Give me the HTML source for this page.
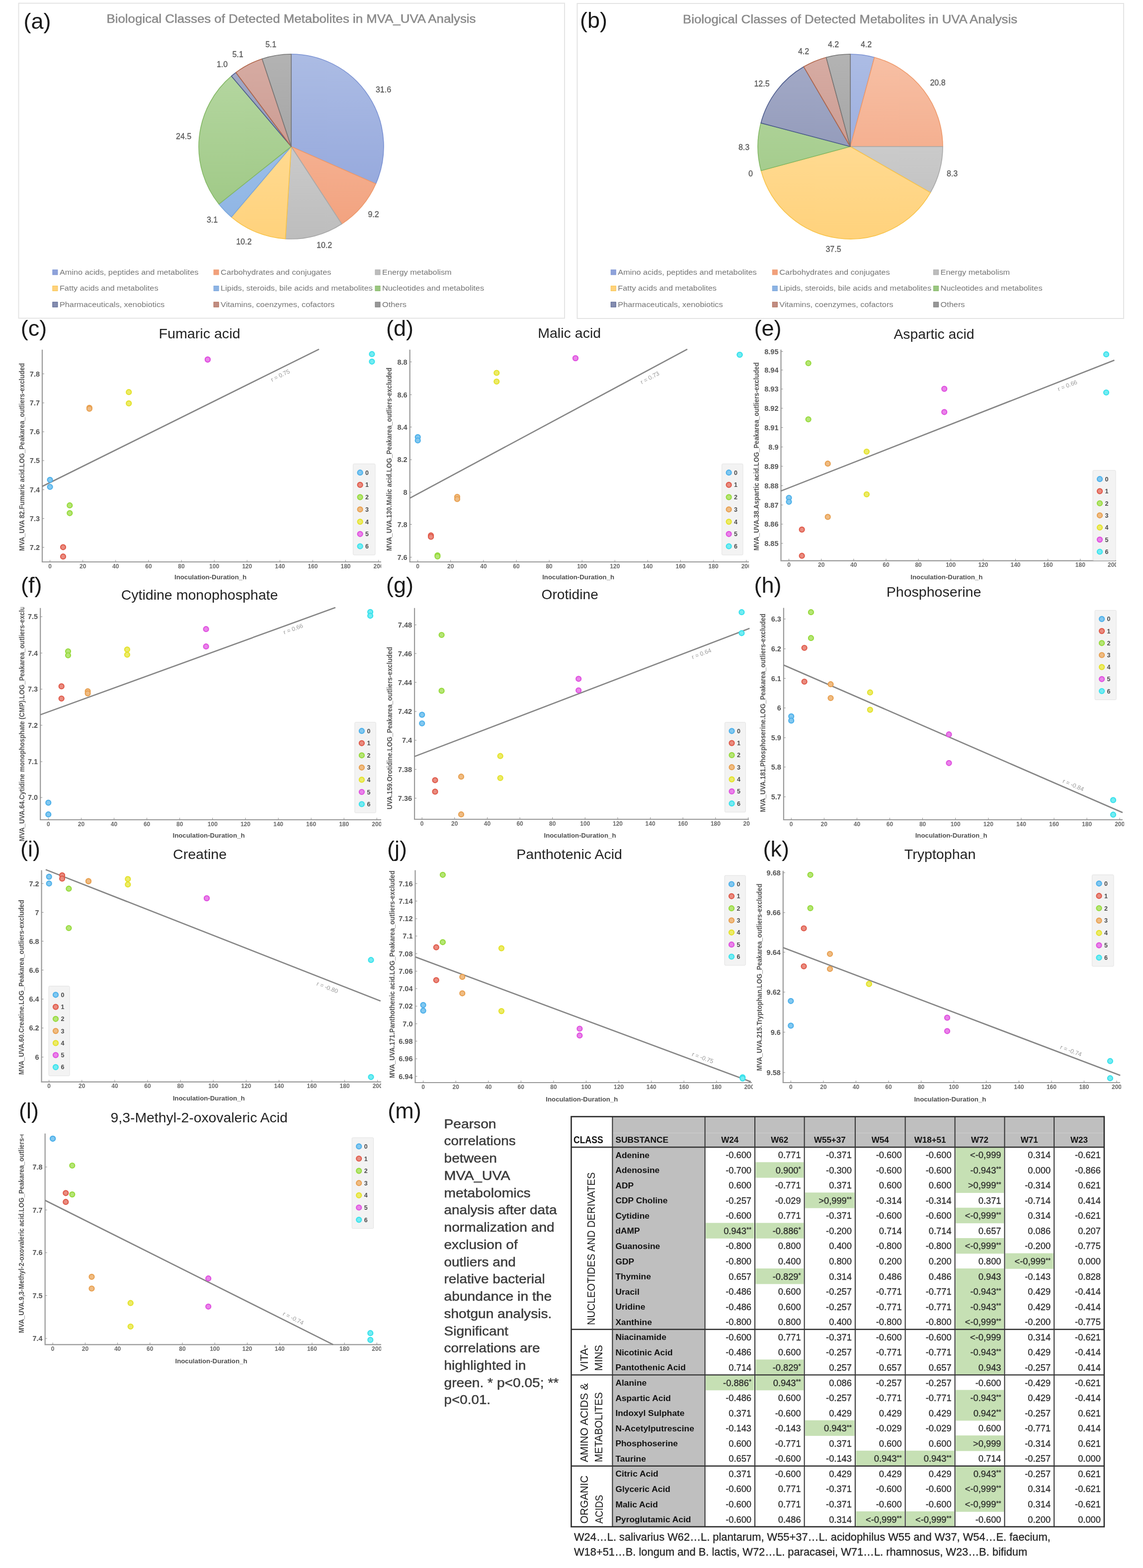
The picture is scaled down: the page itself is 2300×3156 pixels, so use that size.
<!DOCTYPE html>
<html><head><meta charset="utf-8"><title>Figure</title><style>html,body{margin:0;padding:0;background:#fff;}svg{display:block;}</style></head><body>
<svg width="2300" height="3156" viewBox="0 0 2300 3156" font-family="'Liberation Sans', Arial, sans-serif">
<defs>
<linearGradient id="pa_amino" gradientUnits="userSpaceOnUse" x1="0" y1="109" x2="0" y2="481"><stop offset="0" stop-color="#acbce4"/><stop offset="1" stop-color="#8ea2da"/></linearGradient>
<linearGradient id="pa_carb" gradientUnits="userSpaceOnUse" x1="0" y1="109" x2="0" y2="481"><stop offset="0" stop-color="#f7c0a5"/><stop offset="1" stop-color="#f2a07c"/></linearGradient>
<linearGradient id="pa_energy" gradientUnits="userSpaceOnUse" x1="0" y1="109" x2="0" y2="481"><stop offset="0" stop-color="#d8d8d8"/><stop offset="1" stop-color="#bdbdbd"/></linearGradient>
<linearGradient id="pa_fatty" gradientUnits="userSpaceOnUse" x1="0" y1="109" x2="0" y2="481"><stop offset="0" stop-color="#ffe2a6"/><stop offset="1" stop-color="#ffd27c"/></linearGradient>
<linearGradient id="pa_lipid" gradientUnits="userSpaceOnUse" x1="0" y1="109" x2="0" y2="481"><stop offset="0" stop-color="#abc9ee"/><stop offset="1" stop-color="#8cb3e3"/></linearGradient>
<linearGradient id="pa_nucl" gradientUnits="userSpaceOnUse" x1="0" y1="109" x2="0" y2="481"><stop offset="0" stop-color="#b7d8a3"/><stop offset="1" stop-color="#9bc681"/></linearGradient>
<linearGradient id="pa_pharma" gradientUnits="userSpaceOnUse" x1="0" y1="109" x2="0" y2="481"><stop offset="0" stop-color="#a4abc8"/><stop offset="1" stop-color="#858daf"/></linearGradient>
<linearGradient id="pa_vit" gradientUnits="userSpaceOnUse" x1="0" y1="109" x2="0" y2="481"><stop offset="0" stop-color="#d7aca3"/><stop offset="1" stop-color="#c08d84"/></linearGradient>
<linearGradient id="pa_other" gradientUnits="userSpaceOnUse" x1="0" y1="109" x2="0" y2="481"><stop offset="0" stop-color="#b3b3b3"/><stop offset="1" stop-color="#989898"/></linearGradient>
<linearGradient id="pb_amino" gradientUnits="userSpaceOnUse" x1="0" y1="109" x2="0" y2="481"><stop offset="0" stop-color="#acbce4"/><stop offset="1" stop-color="#8ea2da"/></linearGradient>
<linearGradient id="pb_carb" gradientUnits="userSpaceOnUse" x1="0" y1="109" x2="0" y2="481"><stop offset="0" stop-color="#f7c0a5"/><stop offset="1" stop-color="#f2a07c"/></linearGradient>
<linearGradient id="pb_energy" gradientUnits="userSpaceOnUse" x1="0" y1="109" x2="0" y2="481"><stop offset="0" stop-color="#d8d8d8"/><stop offset="1" stop-color="#bdbdbd"/></linearGradient>
<linearGradient id="pb_fatty" gradientUnits="userSpaceOnUse" x1="0" y1="109" x2="0" y2="481"><stop offset="0" stop-color="#ffe2a6"/><stop offset="1" stop-color="#ffd27c"/></linearGradient>
<linearGradient id="pb_lipid" gradientUnits="userSpaceOnUse" x1="0" y1="109" x2="0" y2="481"><stop offset="0" stop-color="#abc9ee"/><stop offset="1" stop-color="#8cb3e3"/></linearGradient>
<linearGradient id="pb_nucl" gradientUnits="userSpaceOnUse" x1="0" y1="109" x2="0" y2="481"><stop offset="0" stop-color="#b7d8a3"/><stop offset="1" stop-color="#9bc681"/></linearGradient>
<linearGradient id="pb_pharma" gradientUnits="userSpaceOnUse" x1="0" y1="109" x2="0" y2="481"><stop offset="0" stop-color="#a4abc8"/><stop offset="1" stop-color="#858daf"/></linearGradient>
<linearGradient id="pb_vit" gradientUnits="userSpaceOnUse" x1="0" y1="109" x2="0" y2="481"><stop offset="0" stop-color="#d7aca3"/><stop offset="1" stop-color="#c08d84"/></linearGradient>
<linearGradient id="pb_other" gradientUnits="userSpaceOnUse" x1="0" y1="109" x2="0" y2="481"><stop offset="0" stop-color="#b3b3b3"/><stop offset="1" stop-color="#989898"/></linearGradient>
</defs>
<rect width="2300" height="3156" fill="#fff"/>
<rect x="37.5" y="6.5" width="1098.5" height="634.0" fill="#fff" stroke="#e4e4e4" stroke-width="2"/>
<text x="586.0" y="46.3" font-size="23.5" fill="#8a8a8a" text-anchor="middle" textLength="743.0" lengthAdjust="spacingAndGlyphs" stroke="#8a8a8a" stroke-width="0.5">Biological Classes of Detected Metabolites in MVA_UVA Analysis</text>
<path d="M586,295 L586.00,109.00 A186,186 0 0 1 756.23,369.94 Z" fill="url(#pa_amino)" stroke="#7c93d3" stroke-width="1.6" stroke-linejoin="round"/>
<path d="M586,295 L756.23,369.94 A186,186 0 0 1 687.63,450.78 Z" fill="url(#pa_carb)" stroke="#ee9a6c" stroke-width="1.6" stroke-linejoin="round"/>
<path d="M586,295 L687.63,450.78 A186,186 0 0 1 574.32,480.63 Z" fill="url(#pa_energy)" stroke="#a9a9a9" stroke-width="1.6" stroke-linejoin="round"/>
<path d="M586,295 L574.32,480.63 A186,186 0 0 1 465.65,436.81 Z" fill="url(#pa_fatty)" stroke="#f8c44c" stroke-width="1.6" stroke-linejoin="round"/>
<path d="M586,295 L465.65,436.81 A186,186 0 0 1 440.48,410.84 Z" fill="url(#pa_lipid)" stroke="#7aa6dc" stroke-width="1.6" stroke-linejoin="round"/>
<path d="M586,295 L440.48,410.84 A186,186 0 0 1 465.65,153.19 Z" fill="url(#pa_nucl)" stroke="#84b866" stroke-width="1.6" stroke-linejoin="round"/>
<path d="M586,295 L465.65,153.19 A186,186 0 0 1 474.79,145.91 Z" fill="url(#pa_pharma)" stroke="#4c5b8c" stroke-width="1.6" stroke-linejoin="round"/>
<path d="M586,295 L474.79,145.91 A186,186 0 0 1 527.41,118.47 Z" fill="url(#pa_vit)" stroke="#b0664a" stroke-width="1.6" stroke-linejoin="round"/>
<path d="M586,295 L527.41,118.47 A186,186 0 0 1 586.00,109.00 Z" fill="url(#pa_other)" stroke="#777777" stroke-width="1.6" stroke-linejoin="round"/>
<text x="771.5" y="185.5" font-size="16" fill="#5a5a5a" text-anchor="middle" stroke="#5a5a5a" stroke-width="0.3">31.6</text>
<text x="751.6" y="436.5" font-size="16" fill="#5a5a5a" text-anchor="middle" stroke="#5a5a5a" stroke-width="0.3">9.2</text>
<text x="652.6" y="499.1" font-size="16" fill="#5a5a5a" text-anchor="middle" stroke="#5a5a5a" stroke-width="0.3">10.2</text>
<text x="490.8" y="492.0" font-size="16" fill="#5a5a5a" text-anchor="middle" stroke="#5a5a5a" stroke-width="0.3">10.2</text>
<text x="427.0" y="447.5" font-size="16" fill="#5a5a5a" text-anchor="middle" stroke="#5a5a5a" stroke-width="0.3">3.1</text>
<text x="369.6" y="280.0" font-size="16" fill="#5a5a5a" text-anchor="middle" stroke="#5a5a5a" stroke-width="0.3">24.5</text>
<text x="447.0" y="135.0" font-size="16" fill="#5a5a5a" text-anchor="middle" stroke="#5a5a5a" stroke-width="0.3">1.0</text>
<text x="478.6" y="114.5" font-size="16" fill="#5a5a5a" text-anchor="middle" stroke="#5a5a5a" stroke-width="0.3">5.1</text>
<text x="545.0" y="94.5" font-size="16" fill="#5a5a5a" text-anchor="middle" stroke="#5a5a5a" stroke-width="0.3">5.1</text>
<rect x="105.9" y="543.0" width="10" height="10" fill="#8ea2da" stroke="#7c93d3" stroke-width="1"/>
<text x="119.9" y="552.6" font-size="15.5" fill="#767676" textLength="279.5" lengthAdjust="spacingAndGlyphs">Amino acids, peptides and metabolites</text>
<rect x="430.1" y="543.0" width="10" height="10" fill="#f2a07c" stroke="#ee9a6c" stroke-width="1"/>
<text x="444.1" y="552.6" font-size="15.5" fill="#767676" textLength="222.3" lengthAdjust="spacingAndGlyphs">Carbohydrates and conjugates</text>
<rect x="755.0" y="543.0" width="10" height="10" fill="#bdbdbd" stroke="#a9a9a9" stroke-width="1"/>
<text x="769.0" y="552.6" font-size="15.5" fill="#767676" textLength="139.7" lengthAdjust="spacingAndGlyphs">Energy metabolism</text>
<rect x="105.9" y="575.5" width="10" height="10" fill="#ffd27c" stroke="#f8c44c" stroke-width="1"/>
<text x="119.9" y="585.1" font-size="15.5" fill="#767676" textLength="198.7" lengthAdjust="spacingAndGlyphs">Fatty acids and metabolites</text>
<rect x="430.1" y="575.5" width="10" height="10" fill="#8cb3e3" stroke="#7aa6dc" stroke-width="1"/>
<text x="444.1" y="585.1" font-size="15.5" fill="#767676" textLength="305.8" lengthAdjust="spacingAndGlyphs">Lipids, steroids, bile acids and metabolites</text>
<rect x="755.0" y="575.5" width="10" height="10" fill="#9bc681" stroke="#84b866" stroke-width="1"/>
<text x="769.0" y="585.1" font-size="15.5" fill="#767676" textLength="205.1" lengthAdjust="spacingAndGlyphs">Nucleotides and metabolites</text>
<rect x="105.9" y="608.0" width="10" height="10" fill="#858daf" stroke="#4c5b8c" stroke-width="1"/>
<text x="119.9" y="617.6" font-size="15.5" fill="#767676" textLength="211.4" lengthAdjust="spacingAndGlyphs">Pharmaceuticals, xenobiotics</text>
<rect x="430.1" y="608.0" width="10" height="10" fill="#c08d84" stroke="#b0664a" stroke-width="1"/>
<text x="444.1" y="617.6" font-size="15.5" fill="#767676" textLength="229.2" lengthAdjust="spacingAndGlyphs">Vitamins, coenzymes, cofactors</text>
<rect x="755.0" y="608.0" width="10" height="10" fill="#989898" stroke="#777777" stroke-width="1"/>
<text x="769.0" y="617.6" font-size="15.5" fill="#767676" textLength="49.0" lengthAdjust="spacingAndGlyphs">Others</text>
<text x="47.6" y="57.5" font-size="45" fill="#1a1a1a">(a)</text>
<rect x="1161.5" y="7" width="1099.5" height="634" fill="#fff" stroke="#e4e4e4" stroke-width="2"/>
<text x="1710.6" y="47.4" font-size="23.5" fill="#8a8a8a" text-anchor="middle" textLength="673.0" lengthAdjust="spacingAndGlyphs" stroke="#8a8a8a" stroke-width="0.5">Biological Classes of Detected Metabolites in UVA Analysis</text>
<path d="M1711,295 L1711.00,109.00 A186,186 0 0 1 1759.52,115.44 Z" fill="url(#pb_amino)" stroke="#7c93d3" stroke-width="1.6" stroke-linejoin="round"/>
<path d="M1711,295 L1759.52,115.44 A186,186 0 0 1 1897.00,295.00 Z" fill="url(#pb_carb)" stroke="#ee9a6c" stroke-width="1.6" stroke-linejoin="round"/>
<path d="M1711,295 L1897.00,295.00 A186,186 0 0 1 1872.28,387.66 Z" fill="url(#pb_energy)" stroke="#a9a9a9" stroke-width="1.6" stroke-linejoin="round"/>
<path d="M1711,295 L1872.28,387.66 A186,186 0 0 1 1531.44,343.52 Z" fill="url(#pb_fatty)" stroke="#f8c44c" stroke-width="1.6" stroke-linejoin="round"/>
<path d="M1711,295 L1531.44,343.52 A186,186 0 0 1 1531.14,247.61 Z" fill="url(#pb_nucl)" stroke="#84b866" stroke-width="1.6" stroke-linejoin="round"/>
<path d="M1711,295 L1531.14,247.61 A186,186 0 0 1 1617.33,134.31 Z" fill="url(#pb_pharma)" stroke="#4c5b8c" stroke-width="1.6" stroke-linejoin="round"/>
<path d="M1711,295 L1617.33,134.31 A186,186 0 0 1 1662.48,115.44 Z" fill="url(#pb_vit)" stroke="#b0664a" stroke-width="1.6" stroke-linejoin="round"/>
<path d="M1711,295 L1662.48,115.44 A186,186 0 0 1 1711.00,109.00 Z" fill="url(#pb_other)" stroke="#777777" stroke-width="1.6" stroke-linejoin="round"/>
<text x="1743.0" y="94.5" font-size="16" fill="#5a5a5a" text-anchor="middle" stroke="#5a5a5a" stroke-width="0.3">4.2</text>
<text x="1887.0" y="172.0" font-size="16" fill="#5a5a5a" text-anchor="middle" stroke="#5a5a5a" stroke-width="0.3">20.8</text>
<text x="1916.0" y="355.0" font-size="16" fill="#5a5a5a" text-anchor="middle" stroke="#5a5a5a" stroke-width="0.3">8.3</text>
<text x="1677.0" y="506.5" font-size="16" fill="#5a5a5a" text-anchor="middle" stroke="#5a5a5a" stroke-width="0.3">37.5</text>
<text x="1510.5" y="355.0" font-size="16" fill="#5a5a5a" text-anchor="middle" stroke="#5a5a5a" stroke-width="0.3">0</text>
<text x="1497.0" y="302.1" font-size="16" fill="#5a5a5a" text-anchor="middle" stroke="#5a5a5a" stroke-width="0.3">8.3</text>
<text x="1533.0" y="173.5" font-size="16" fill="#5a5a5a" text-anchor="middle" stroke="#5a5a5a" stroke-width="0.3">12.5</text>
<text x="1617.0" y="108.5" font-size="16" fill="#5a5a5a" text-anchor="middle" stroke="#5a5a5a" stroke-width="0.3">4.2</text>
<text x="1677.0" y="94.5" font-size="16" fill="#5a5a5a" text-anchor="middle" stroke="#5a5a5a" stroke-width="0.3">4.2</text>
<rect x="1229.3" y="543.0" width="10" height="10" fill="#8ea2da" stroke="#7c93d3" stroke-width="1"/>
<text x="1243.3" y="552.6" font-size="15.5" fill="#767676" textLength="279.5" lengthAdjust="spacingAndGlyphs">Amino acids, peptides and metabolites</text>
<rect x="1554.3" y="543.0" width="10" height="10" fill="#f2a07c" stroke="#ee9a6c" stroke-width="1"/>
<text x="1568.3" y="552.6" font-size="15.5" fill="#767676" textLength="222.3" lengthAdjust="spacingAndGlyphs">Carbohydrates and conjugates</text>
<rect x="1878.5" y="543.0" width="10" height="10" fill="#bdbdbd" stroke="#a9a9a9" stroke-width="1"/>
<text x="1892.5" y="552.6" font-size="15.5" fill="#767676" textLength="139.7" lengthAdjust="spacingAndGlyphs">Energy metabolism</text>
<rect x="1229.3" y="575.5" width="10" height="10" fill="#ffd27c" stroke="#f8c44c" stroke-width="1"/>
<text x="1243.3" y="585.1" font-size="15.5" fill="#767676" textLength="198.7" lengthAdjust="spacingAndGlyphs">Fatty acids and metabolites</text>
<rect x="1554.3" y="575.5" width="10" height="10" fill="#8cb3e3" stroke="#7aa6dc" stroke-width="1"/>
<text x="1568.3" y="585.1" font-size="15.5" fill="#767676" textLength="305.8" lengthAdjust="spacingAndGlyphs">Lipids, steroids, bile acids and metabolites</text>
<rect x="1878.5" y="575.5" width="10" height="10" fill="#9bc681" stroke="#84b866" stroke-width="1"/>
<text x="1892.5" y="585.1" font-size="15.5" fill="#767676" textLength="205.1" lengthAdjust="spacingAndGlyphs">Nucleotides and metabolites</text>
<rect x="1229.3" y="608.0" width="10" height="10" fill="#858daf" stroke="#4c5b8c" stroke-width="1"/>
<text x="1243.3" y="617.6" font-size="15.5" fill="#767676" textLength="211.4" lengthAdjust="spacingAndGlyphs">Pharmaceuticals, xenobiotics</text>
<rect x="1554.3" y="608.0" width="10" height="10" fill="#c08d84" stroke="#b0664a" stroke-width="1"/>
<text x="1568.3" y="617.6" font-size="15.5" fill="#767676" textLength="229.2" lengthAdjust="spacingAndGlyphs">Vitamins, coenzymes, cofactors</text>
<rect x="1878.5" y="608.0" width="10" height="10" fill="#989898" stroke="#777777" stroke-width="1"/>
<text x="1892.5" y="617.6" font-size="15.5" fill="#767676" textLength="49.0" lengthAdjust="spacingAndGlyphs">Others</text>
<text x="1167.0" y="55.5" font-size="45" fill="#1a1a1a">(b)</text>
<clipPath id="clip_c"><rect x="28" y="695" width="739" height="483"/></clipPath>
<g clip-path="url(#clip_c)">
<path d="M85,703.7 L85,1131 L767,1131" fill="none" stroke="#9a9a9a" stroke-width="2.2"/>
<line x1="100.6" y1="1127" x2="100.6" y2="1131" stroke="#8a8a8a" stroke-width="1"/>
<text x="100.6" y="1143.6" font-size="12" fill="#6a6a6a" text-anchor="middle" font-weight="bold">0</text>
<line x1="166.7" y1="1127" x2="166.7" y2="1131" stroke="#8a8a8a" stroke-width="1"/>
<text x="166.7" y="1143.6" font-size="12" fill="#6a6a6a" text-anchor="middle" font-weight="bold">20</text>
<line x1="232.8" y1="1127" x2="232.8" y2="1131" stroke="#8a8a8a" stroke-width="1"/>
<text x="232.8" y="1143.6" font-size="12" fill="#6a6a6a" text-anchor="middle" font-weight="bold">40</text>
<line x1="298.9" y1="1127" x2="298.9" y2="1131" stroke="#8a8a8a" stroke-width="1"/>
<text x="298.9" y="1143.6" font-size="12" fill="#6a6a6a" text-anchor="middle" font-weight="bold">60</text>
<line x1="365.0" y1="1127" x2="365.0" y2="1131" stroke="#8a8a8a" stroke-width="1"/>
<text x="365.0" y="1143.6" font-size="12" fill="#6a6a6a" text-anchor="middle" font-weight="bold">80</text>
<line x1="431.1" y1="1127" x2="431.1" y2="1131" stroke="#8a8a8a" stroke-width="1"/>
<text x="431.1" y="1143.6" font-size="12" fill="#6a6a6a" text-anchor="middle" font-weight="bold">100</text>
<line x1="497.2" y1="1127" x2="497.2" y2="1131" stroke="#8a8a8a" stroke-width="1"/>
<text x="497.2" y="1143.6" font-size="12" fill="#6a6a6a" text-anchor="middle" font-weight="bold">120</text>
<line x1="563.3" y1="1127" x2="563.3" y2="1131" stroke="#8a8a8a" stroke-width="1"/>
<text x="563.3" y="1143.6" font-size="12" fill="#6a6a6a" text-anchor="middle" font-weight="bold">140</text>
<line x1="629.4" y1="1127" x2="629.4" y2="1131" stroke="#8a8a8a" stroke-width="1"/>
<text x="629.4" y="1143.6" font-size="12" fill="#6a6a6a" text-anchor="middle" font-weight="bold">160</text>
<line x1="695.5" y1="1127" x2="695.5" y2="1131" stroke="#8a8a8a" stroke-width="1"/>
<text x="695.5" y="1143.6" font-size="12" fill="#6a6a6a" text-anchor="middle" font-weight="bold">180</text>
<line x1="761.6" y1="1127" x2="761.6" y2="1131" stroke="#8a8a8a" stroke-width="1"/>
<text x="761.6" y="1143.6" font-size="12" fill="#6a6a6a" text-anchor="middle" font-weight="bold">200</text>
<line x1="85" y1="752.4" x2="89" y2="752.4" stroke="#8a8a8a" stroke-width="1"/>
<text x="80.0" y="757.6" font-size="14.5" fill="#555" text-anchor="end" font-weight="bold">7.8</text>
<line x1="85" y1="810.9" x2="89" y2="810.9" stroke="#8a8a8a" stroke-width="1"/>
<text x="80.0" y="816.1" font-size="14.5" fill="#555" text-anchor="end" font-weight="bold">7.7</text>
<line x1="85" y1="869.0" x2="89" y2="869.0" stroke="#8a8a8a" stroke-width="1"/>
<text x="80.0" y="874.2" font-size="14.5" fill="#555" text-anchor="end" font-weight="bold">7.6</text>
<line x1="85" y1="927.0" x2="89" y2="927.0" stroke="#8a8a8a" stroke-width="1"/>
<text x="80.0" y="932.2" font-size="14.5" fill="#555" text-anchor="end" font-weight="bold">7.5</text>
<line x1="85" y1="985.6" x2="89" y2="985.6" stroke="#8a8a8a" stroke-width="1"/>
<text x="80.0" y="990.8" font-size="14.5" fill="#555" text-anchor="end" font-weight="bold">7.4</text>
<line x1="85" y1="1043.7" x2="89" y2="1043.7" stroke="#8a8a8a" stroke-width="1"/>
<text x="80.0" y="1048.9" font-size="14.5" fill="#555" text-anchor="end" font-weight="bold">7.3</text>
<line x1="85" y1="1101.8" x2="89" y2="1101.8" stroke="#8a8a8a" stroke-width="1"/>
<text x="80.0" y="1107.0" font-size="14.5" fill="#555" text-anchor="end" font-weight="bold">7.2</text>
<text transform="translate(49.2,1109.0) rotate(-90)" x="0" y="0" font-size="14.5" font-weight="bold" fill="#555" textLength="378.3" lengthAdjust="spacingAndGlyphs">MVA_UVA 82.Fumaric acid.LOG_Peakarea_outliers-excluded</text>
<text x="423.5" y="1166.2" font-size="13" fill="#505050" text-anchor="middle" font-weight="bold" textLength="145.0" lengthAdjust="spacingAndGlyphs">Inoculation-Duration_h</text>
<line x1="85" y1="979" x2="642" y2="702.8" stroke="#858585" stroke-width="2.6"/>
<text transform="translate(564.0,755.7) rotate(-26.4)" x="0" y="4" font-size="12" fill="#9a9a9a" text-anchor="middle">r = 0.75</text>
<circle cx="100.6" cy="965.8" r="5" fill="#82c8f0" stroke="#4db0ea" stroke-width="2.2"/>
<circle cx="100.6" cy="980.0" r="5" fill="#82c8f0" stroke="#4db0ea" stroke-width="2.2"/>
<circle cx="127.0" cy="1101.3" r="5" fill="#e98c80" stroke="#e05a4a" stroke-width="2.2"/>
<circle cx="127.0" cy="1120.2" r="5" fill="#e98c80" stroke="#e05a4a" stroke-width="2.2"/>
<circle cx="140.3" cy="1017.2" r="5" fill="#b6e576" stroke="#96da3c" stroke-width="2.2"/>
<circle cx="140.3" cy="1032.8" r="5" fill="#b6e576" stroke="#96da3c" stroke-width="2.2"/>
<circle cx="179.9" cy="820.8" r="5" fill="#efbc84" stroke="#e8a050" stroke-width="2.2"/>
<circle cx="179.9" cy="822.7" r="5" fill="#efbc84" stroke="#e8a050" stroke-width="2.2"/>
<circle cx="259.2" cy="789.2" r="5" fill="#eceb6a" stroke="#e4e22a" stroke-width="2.2"/>
<circle cx="259.2" cy="811.9" r="5" fill="#eceb6a" stroke="#e4e22a" stroke-width="2.2"/>
<circle cx="417.9" cy="723.6" r="5" fill="#e984e9" stroke="#e050e0" stroke-width="2.2"/>
<circle cx="417.9" cy="723.6" r="5" fill="#e984e9" stroke="#e050e0" stroke-width="2.2"/>
<circle cx="748.4" cy="712.7" r="5" fill="#74ebf2" stroke="#38e2ec" stroke-width="2.2"/>
<circle cx="748.4" cy="727.8" r="5" fill="#74ebf2" stroke="#38e2ec" stroke-width="2.2"/>
<rect x="710.6" y="933.7" width="44.39999999999998" height="183.29999999999995" rx="2" fill="#f3f3f3" stroke="#e2e2e2" stroke-width="1"/>
<circle cx="724.6" cy="951.2" r="5" fill="#82c8f0" stroke="#4db0ea" stroke-width="2.2"/>
<text x="735.1" y="955.7" font-size="12.5" fill="#4a4a4a" font-weight="bold">0</text>
<circle cx="724.6" cy="975.9" r="5" fill="#e98c80" stroke="#e05a4a" stroke-width="2.2"/>
<text x="735.1" y="980.4" font-size="12.5" fill="#4a4a4a" font-weight="bold">1</text>
<circle cx="724.6" cy="1000.6" r="5" fill="#b6e576" stroke="#96da3c" stroke-width="2.2"/>
<text x="735.1" y="1005.1" font-size="12.5" fill="#4a4a4a" font-weight="bold">2</text>
<circle cx="724.6" cy="1025.3" r="5" fill="#efbc84" stroke="#e8a050" stroke-width="2.2"/>
<text x="735.1" y="1029.8" font-size="12.5" fill="#4a4a4a" font-weight="bold">3</text>
<circle cx="724.6" cy="1050.1" r="5" fill="#eceb6a" stroke="#e4e22a" stroke-width="2.2"/>
<text x="735.1" y="1054.6" font-size="12.5" fill="#4a4a4a" font-weight="bold">4</text>
<circle cx="724.6" cy="1074.8" r="5" fill="#e984e9" stroke="#e050e0" stroke-width="2.2"/>
<text x="735.1" y="1079.3" font-size="12.5" fill="#4a4a4a" font-weight="bold">5</text>
<circle cx="724.6" cy="1099.5" r="5" fill="#74ebf2" stroke="#38e2ec" stroke-width="2.2"/>
<text x="735.1" y="1104.0" font-size="12.5" fill="#4a4a4a" font-weight="bold">6</text>
</g>
<text x="41.7" y="675.5" font-size="45" fill="#1a1a1a">(c)</text>
<text x="401.5" y="681.0" font-size="28" fill="#222" text-anchor="middle" textLength="164.0" lengthAdjust="spacingAndGlyphs">Fumaric acid</text>
<clipPath id="clip_d"><rect x="770" y="695" width="737" height="483"/></clipPath>
<g clip-path="url(#clip_d)">
<path d="M824.7,703.7 L824.7,1131 L1507,1131" fill="none" stroke="#9a9a9a" stroke-width="2.2"/>
<line x1="840.7" y1="1127" x2="840.7" y2="1131" stroke="#8a8a8a" stroke-width="1"/>
<text x="840.7" y="1143.6" font-size="12" fill="#6a6a6a" text-anchor="middle" font-weight="bold">0</text>
<line x1="906.8" y1="1127" x2="906.8" y2="1131" stroke="#8a8a8a" stroke-width="1"/>
<text x="906.8" y="1143.6" font-size="12" fill="#6a6a6a" text-anchor="middle" font-weight="bold">20</text>
<line x1="972.9" y1="1127" x2="972.9" y2="1131" stroke="#8a8a8a" stroke-width="1"/>
<text x="972.9" y="1143.6" font-size="12" fill="#6a6a6a" text-anchor="middle" font-weight="bold">40</text>
<line x1="1039.0" y1="1127" x2="1039.0" y2="1131" stroke="#8a8a8a" stroke-width="1"/>
<text x="1039.0" y="1143.6" font-size="12" fill="#6a6a6a" text-anchor="middle" font-weight="bold">60</text>
<line x1="1105.1" y1="1127" x2="1105.1" y2="1131" stroke="#8a8a8a" stroke-width="1"/>
<text x="1105.1" y="1143.6" font-size="12" fill="#6a6a6a" text-anchor="middle" font-weight="bold">80</text>
<line x1="1171.2" y1="1127" x2="1171.2" y2="1131" stroke="#8a8a8a" stroke-width="1"/>
<text x="1171.2" y="1143.6" font-size="12" fill="#6a6a6a" text-anchor="middle" font-weight="bold">100</text>
<line x1="1237.3" y1="1127" x2="1237.3" y2="1131" stroke="#8a8a8a" stroke-width="1"/>
<text x="1237.3" y="1143.6" font-size="12" fill="#6a6a6a" text-anchor="middle" font-weight="bold">120</text>
<line x1="1303.4" y1="1127" x2="1303.4" y2="1131" stroke="#8a8a8a" stroke-width="1"/>
<text x="1303.4" y="1143.6" font-size="12" fill="#6a6a6a" text-anchor="middle" font-weight="bold">140</text>
<line x1="1369.5" y1="1127" x2="1369.5" y2="1131" stroke="#8a8a8a" stroke-width="1"/>
<text x="1369.5" y="1143.6" font-size="12" fill="#6a6a6a" text-anchor="middle" font-weight="bold">160</text>
<line x1="1435.6" y1="1127" x2="1435.6" y2="1131" stroke="#8a8a8a" stroke-width="1"/>
<text x="1435.6" y="1143.6" font-size="12" fill="#6a6a6a" text-anchor="middle" font-weight="bold">180</text>
<line x1="1501.7" y1="1127" x2="1501.7" y2="1131" stroke="#8a8a8a" stroke-width="1"/>
<text x="1501.7" y="1143.6" font-size="12" fill="#6a6a6a" text-anchor="middle" font-weight="bold">200</text>
<line x1="824.7" y1="728.3" x2="828.7" y2="728.3" stroke="#8a8a8a" stroke-width="1"/>
<text x="819.7" y="733.5" font-size="14.5" fill="#555" text-anchor="end" font-weight="bold">8.8</text>
<line x1="824.7" y1="794.4" x2="828.7" y2="794.4" stroke="#8a8a8a" stroke-width="1"/>
<text x="819.7" y="799.6" font-size="14.5" fill="#555" text-anchor="end" font-weight="bold">8.6</text>
<line x1="824.7" y1="859.5" x2="828.7" y2="859.5" stroke="#8a8a8a" stroke-width="1"/>
<text x="819.7" y="864.7" font-size="14.5" fill="#555" text-anchor="end" font-weight="bold">8.4</text>
<line x1="824.7" y1="925.2" x2="828.7" y2="925.2" stroke="#8a8a8a" stroke-width="1"/>
<text x="819.7" y="930.4" font-size="14.5" fill="#555" text-anchor="end" font-weight="bold">8.2</text>
<line x1="824.7" y1="990.8" x2="828.7" y2="990.8" stroke="#8a8a8a" stroke-width="1"/>
<text x="819.7" y="996.0" font-size="14.5" fill="#555" text-anchor="end" font-weight="bold">8</text>
<line x1="824.7" y1="1055.5" x2="828.7" y2="1055.5" stroke="#8a8a8a" stroke-width="1"/>
<text x="819.7" y="1060.7" font-size="14.5" fill="#555" text-anchor="end" font-weight="bold">7.8</text>
<line x1="824.7" y1="1121.6" x2="828.7" y2="1121.6" stroke="#8a8a8a" stroke-width="1"/>
<text x="819.7" y="1126.8" font-size="14.5" fill="#555" text-anchor="end" font-weight="bold">7.6</text>
<text transform="translate(788.4,1109.0) rotate(-90)" x="0" y="0" font-size="14.5" font-weight="bold" fill="#555" textLength="369.1" lengthAdjust="spacingAndGlyphs">MVA_UVA.130.Malic acid.LOG_Peakarea_outliers-excluded</text>
<text x="1163.7" y="1166.2" font-size="13" fill="#505050" text-anchor="middle" font-weight="bold" textLength="145.0" lengthAdjust="spacingAndGlyphs">Inoculation-Duration_h</text>
<line x1="824.7" y1="1002.6" x2="1383" y2="702.8" stroke="#858585" stroke-width="2.6"/>
<text transform="translate(1307.7,760.4) rotate(-28.2)" x="0" y="4" font-size="12" fill="#9a9a9a" text-anchor="middle">r = 0.73</text>
<circle cx="840.7" cy="879.8" r="5" fill="#82c8f0" stroke="#4db0ea" stroke-width="2.2"/>
<circle cx="840.7" cy="886.5" r="5" fill="#82c8f0" stroke="#4db0ea" stroke-width="2.2"/>
<circle cx="867.1" cy="1077.7" r="5" fill="#e98c80" stroke="#e05a4a" stroke-width="2.2"/>
<circle cx="867.1" cy="1080.5" r="5" fill="#e98c80" stroke="#e05a4a" stroke-width="2.2"/>
<circle cx="880.4" cy="1117.8" r="5" fill="#b6e576" stroke="#96da3c" stroke-width="2.2"/>
<circle cx="880.4" cy="1120.0" r="5" fill="#b6e576" stroke="#96da3c" stroke-width="2.2"/>
<circle cx="920.0" cy="1000.0" r="5" fill="#efbc84" stroke="#e8a050" stroke-width="2.2"/>
<circle cx="920.0" cy="1004.5" r="5" fill="#efbc84" stroke="#e8a050" stroke-width="2.2"/>
<circle cx="999.3" cy="750.5" r="5" fill="#eceb6a" stroke="#e4e22a" stroke-width="2.2"/>
<circle cx="999.3" cy="768.0" r="5" fill="#eceb6a" stroke="#e4e22a" stroke-width="2.2"/>
<circle cx="1158.0" cy="721.0" r="5" fill="#e984e9" stroke="#e050e0" stroke-width="2.2"/>
<circle cx="1158.0" cy="721.0" r="5" fill="#e984e9" stroke="#e050e0" stroke-width="2.2"/>
<circle cx="1488.5" cy="714.0" r="5" fill="#74ebf2" stroke="#38e2ec" stroke-width="2.2"/>
<circle cx="1488.5" cy="714.0" r="5" fill="#74ebf2" stroke="#38e2ec" stroke-width="2.2"/>
<rect x="1452.6" y="933.7" width="42.40000000000009" height="183.29999999999995" rx="2" fill="#f3f3f3" stroke="#e2e2e2" stroke-width="1"/>
<circle cx="1466.6" cy="951.2" r="5" fill="#82c8f0" stroke="#4db0ea" stroke-width="2.2"/>
<text x="1477.1" y="955.7" font-size="12.5" fill="#4a4a4a" font-weight="bold">0</text>
<circle cx="1466.6" cy="975.9" r="5" fill="#e98c80" stroke="#e05a4a" stroke-width="2.2"/>
<text x="1477.1" y="980.4" font-size="12.5" fill="#4a4a4a" font-weight="bold">1</text>
<circle cx="1466.6" cy="1000.6" r="5" fill="#b6e576" stroke="#96da3c" stroke-width="2.2"/>
<text x="1477.1" y="1005.1" font-size="12.5" fill="#4a4a4a" font-weight="bold">2</text>
<circle cx="1466.6" cy="1025.3" r="5" fill="#efbc84" stroke="#e8a050" stroke-width="2.2"/>
<text x="1477.1" y="1029.8" font-size="12.5" fill="#4a4a4a" font-weight="bold">3</text>
<circle cx="1466.6" cy="1050.1" r="5" fill="#eceb6a" stroke="#e4e22a" stroke-width="2.2"/>
<text x="1477.1" y="1054.6" font-size="12.5" fill="#4a4a4a" font-weight="bold">4</text>
<circle cx="1466.6" cy="1074.8" r="5" fill="#e984e9" stroke="#e050e0" stroke-width="2.2"/>
<text x="1477.1" y="1079.3" font-size="12.5" fill="#4a4a4a" font-weight="bold">5</text>
<circle cx="1466.6" cy="1099.5" r="5" fill="#74ebf2" stroke="#38e2ec" stroke-width="2.2"/>
<text x="1477.1" y="1104.0" font-size="12.5" fill="#4a4a4a" font-weight="bold">6</text>
</g>
<text x="777.0" y="675.5" font-size="45" fill="#1a1a1a">(d)</text>
<text x="1145.7" y="680.4" font-size="28" fill="#222" text-anchor="middle" textLength="127.0" lengthAdjust="spacingAndGlyphs">Malic acid</text>
<clipPath id="clip_e"><rect x="1515" y="695" width="731" height="483"/></clipPath>
<g clip-path="url(#clip_e)">
<path d="M1571.5,703.7 L1571.5,1128.7 L2246,1128.7" fill="none" stroke="#9a9a9a" stroke-width="2.2"/>
<line x1="1587.5" y1="1124.7" x2="1587.5" y2="1128.7" stroke="#8a8a8a" stroke-width="1"/>
<text x="1587.5" y="1141.3" font-size="12" fill="#6a6a6a" text-anchor="middle" font-weight="bold">0</text>
<line x1="1652.7" y1="1124.7" x2="1652.7" y2="1128.7" stroke="#8a8a8a" stroke-width="1"/>
<text x="1652.7" y="1141.3" font-size="12" fill="#6a6a6a" text-anchor="middle" font-weight="bold">20</text>
<line x1="1717.8" y1="1124.7" x2="1717.8" y2="1128.7" stroke="#8a8a8a" stroke-width="1"/>
<text x="1717.8" y="1141.3" font-size="12" fill="#6a6a6a" text-anchor="middle" font-weight="bold">40</text>
<line x1="1783.0" y1="1124.7" x2="1783.0" y2="1128.7" stroke="#8a8a8a" stroke-width="1"/>
<text x="1783.0" y="1141.3" font-size="12" fill="#6a6a6a" text-anchor="middle" font-weight="bold">60</text>
<line x1="1848.1" y1="1124.7" x2="1848.1" y2="1128.7" stroke="#8a8a8a" stroke-width="1"/>
<text x="1848.1" y="1141.3" font-size="12" fill="#6a6a6a" text-anchor="middle" font-weight="bold">80</text>
<line x1="1913.2" y1="1124.7" x2="1913.2" y2="1128.7" stroke="#8a8a8a" stroke-width="1"/>
<text x="1913.2" y="1141.3" font-size="12" fill="#6a6a6a" text-anchor="middle" font-weight="bold">100</text>
<line x1="1978.4" y1="1124.7" x2="1978.4" y2="1128.7" stroke="#8a8a8a" stroke-width="1"/>
<text x="1978.4" y="1141.3" font-size="12" fill="#6a6a6a" text-anchor="middle" font-weight="bold">120</text>
<line x1="2043.5" y1="1124.7" x2="2043.5" y2="1128.7" stroke="#8a8a8a" stroke-width="1"/>
<text x="2043.5" y="1141.3" font-size="12" fill="#6a6a6a" text-anchor="middle" font-weight="bold">140</text>
<line x1="2108.7" y1="1124.7" x2="2108.7" y2="1128.7" stroke="#8a8a8a" stroke-width="1"/>
<text x="2108.7" y="1141.3" font-size="12" fill="#6a6a6a" text-anchor="middle" font-weight="bold">160</text>
<line x1="2173.8" y1="1124.7" x2="2173.8" y2="1128.7" stroke="#8a8a8a" stroke-width="1"/>
<text x="2173.8" y="1141.3" font-size="12" fill="#6a6a6a" text-anchor="middle" font-weight="bold">180</text>
<line x1="2239.0" y1="1124.7" x2="2239.0" y2="1128.7" stroke="#8a8a8a" stroke-width="1"/>
<text x="2239.0" y="1141.3" font-size="12" fill="#6a6a6a" text-anchor="middle" font-weight="bold">200</text>
<line x1="1571.5" y1="707.5" x2="1575.5" y2="707.5" stroke="#8a8a8a" stroke-width="1"/>
<text x="1566.5" y="712.7" font-size="14.5" fill="#555" text-anchor="end" font-weight="bold">8.95</text>
<line x1="1571.5" y1="744.8" x2="1575.5" y2="744.8" stroke="#8a8a8a" stroke-width="1"/>
<text x="1566.5" y="750.0" font-size="14.5" fill="#555" text-anchor="end" font-weight="bold">8.94</text>
<line x1="1571.5" y1="783.0" x2="1575.5" y2="783.0" stroke="#8a8a8a" stroke-width="1"/>
<text x="1566.5" y="788.2" font-size="14.5" fill="#555" text-anchor="end" font-weight="bold">8.93</text>
<line x1="1571.5" y1="821.8" x2="1575.5" y2="821.8" stroke="#8a8a8a" stroke-width="1"/>
<text x="1566.5" y="827.0" font-size="14.5" fill="#555" text-anchor="end" font-weight="bold">8.92</text>
<line x1="1571.5" y1="860.5" x2="1575.5" y2="860.5" stroke="#8a8a8a" stroke-width="1"/>
<text x="1566.5" y="865.7" font-size="14.5" fill="#555" text-anchor="end" font-weight="bold">8.91</text>
<line x1="1571.5" y1="899.7" x2="1575.5" y2="899.7" stroke="#8a8a8a" stroke-width="1"/>
<text x="1566.5" y="904.9" font-size="14.5" fill="#555" text-anchor="end" font-weight="bold">8.9</text>
<line x1="1571.5" y1="938.4" x2="1575.5" y2="938.4" stroke="#8a8a8a" stroke-width="1"/>
<text x="1566.5" y="943.6" font-size="14.5" fill="#555" text-anchor="end" font-weight="bold">8.89</text>
<line x1="1571.5" y1="977.6" x2="1575.5" y2="977.6" stroke="#8a8a8a" stroke-width="1"/>
<text x="1566.5" y="982.8" font-size="14.5" fill="#555" text-anchor="end" font-weight="bold">8.88</text>
<line x1="1571.5" y1="1016.3" x2="1575.5" y2="1016.3" stroke="#8a8a8a" stroke-width="1"/>
<text x="1566.5" y="1021.5" font-size="14.5" fill="#555" text-anchor="end" font-weight="bold">8.87</text>
<line x1="1571.5" y1="1055.0" x2="1575.5" y2="1055.0" stroke="#8a8a8a" stroke-width="1"/>
<text x="1566.5" y="1060.2" font-size="14.5" fill="#555" text-anchor="end" font-weight="bold">8.86</text>
<line x1="1571.5" y1="1093.7" x2="1575.5" y2="1093.7" stroke="#8a8a8a" stroke-width="1"/>
<text x="1566.5" y="1098.9" font-size="14.5" fill="#555" text-anchor="end" font-weight="bold">8.85</text>
<text transform="translate(1527.0,1108.3) rotate(-90)" x="0" y="0" font-size="14.5" font-weight="bold" fill="#555" textLength="379.1" lengthAdjust="spacingAndGlyphs">MVA_UVA.38.Aspartic acid.LOG_Peakarea_outliers-excluded</text>
<text x="1904.8" y="1166.2" font-size="13" fill="#505050" text-anchor="middle" font-weight="bold" textLength="145.0" lengthAdjust="spacingAndGlyphs">Inoculation-Duration_h</text>
<line x1="1571" y1="988.4" x2="2242.4" y2="725" stroke="#858585" stroke-width="2.6"/>
<text transform="translate(2148.0,776.0) rotate(-21.4)" x="0" y="4" font-size="12" fill="#9a9a9a" text-anchor="middle">r = 0.66</text>
<circle cx="1587.5" cy="1002.0" r="5" fill="#82c8f0" stroke="#4db0ea" stroke-width="2.2"/>
<circle cx="1587.5" cy="1010.0" r="5" fill="#82c8f0" stroke="#4db0ea" stroke-width="2.2"/>
<circle cx="1613.6" cy="1065.9" r="5" fill="#e98c80" stroke="#e05a4a" stroke-width="2.2"/>
<circle cx="1613.6" cy="1118.7" r="5" fill="#e98c80" stroke="#e05a4a" stroke-width="2.2"/>
<circle cx="1626.6" cy="731.0" r="5" fill="#b6e576" stroke="#96da3c" stroke-width="2.2"/>
<circle cx="1626.6" cy="844.0" r="5" fill="#b6e576" stroke="#96da3c" stroke-width="2.2"/>
<circle cx="1665.7" cy="933.2" r="5" fill="#efbc84" stroke="#e8a050" stroke-width="2.2"/>
<circle cx="1665.7" cy="1040.4" r="5" fill="#efbc84" stroke="#e8a050" stroke-width="2.2"/>
<circle cx="1743.9" cy="909.0" r="5" fill="#eceb6a" stroke="#e4e22a" stroke-width="2.2"/>
<circle cx="1743.9" cy="995.0" r="5" fill="#eceb6a" stroke="#e4e22a" stroke-width="2.2"/>
<circle cx="1900.2" cy="782.6" r="5" fill="#e984e9" stroke="#e050e0" stroke-width="2.2"/>
<circle cx="1900.2" cy="829.3" r="5" fill="#e984e9" stroke="#e050e0" stroke-width="2.2"/>
<circle cx="2226.0" cy="713.2" r="5" fill="#74ebf2" stroke="#38e2ec" stroke-width="2.2"/>
<circle cx="2226.0" cy="790.0" r="5" fill="#74ebf2" stroke="#38e2ec" stroke-width="2.2"/>
<rect x="2199" y="946.7" width="46" height="181.29999999999995" rx="2" fill="#f3f3f3" stroke="#e2e2e2" stroke-width="1"/>
<circle cx="2213.0" cy="964.2" r="5" fill="#82c8f0" stroke="#4db0ea" stroke-width="2.2"/>
<text x="2223.5" y="968.7" font-size="12.5" fill="#4a4a4a" font-weight="bold">0</text>
<circle cx="2213.0" cy="988.6" r="5" fill="#e98c80" stroke="#e05a4a" stroke-width="2.2"/>
<text x="2223.5" y="993.1" font-size="12.5" fill="#4a4a4a" font-weight="bold">1</text>
<circle cx="2213.0" cy="1013.0" r="5" fill="#b6e576" stroke="#96da3c" stroke-width="2.2"/>
<text x="2223.5" y="1017.5" font-size="12.5" fill="#4a4a4a" font-weight="bold">2</text>
<circle cx="2213.0" cy="1037.3" r="5" fill="#efbc84" stroke="#e8a050" stroke-width="2.2"/>
<text x="2223.5" y="1041.8" font-size="12.5" fill="#4a4a4a" font-weight="bold">3</text>
<circle cx="2213.0" cy="1061.7" r="5" fill="#eceb6a" stroke="#e4e22a" stroke-width="2.2"/>
<text x="2223.5" y="1066.2" font-size="12.5" fill="#4a4a4a" font-weight="bold">4</text>
<circle cx="2213.0" cy="1086.1" r="5" fill="#e984e9" stroke="#e050e0" stroke-width="2.2"/>
<text x="2223.5" y="1090.6" font-size="12.5" fill="#4a4a4a" font-weight="bold">5</text>
<circle cx="2213.0" cy="1110.5" r="5" fill="#74ebf2" stroke="#38e2ec" stroke-width="2.2"/>
<text x="2223.5" y="1115.0" font-size="12.5" fill="#4a4a4a" font-weight="bold">6</text>
</g>
<text x="1517.5" y="675.5" font-size="45" fill="#1a1a1a">(e)</text>
<text x="1879.5" y="682.3" font-size="28" fill="#222" text-anchor="middle" textLength="162.0" lengthAdjust="spacingAndGlyphs">Aspartic acid</text>
<clipPath id="clip_f"><rect x="28" y="1222" width="739" height="478"/></clipPath>
<g clip-path="url(#clip_f)">
<path d="M81.2,1223.7 L81.2,1650 L767,1650" fill="none" stroke="#9a9a9a" stroke-width="2.2"/>
<line x1="97.3" y1="1646" x2="97.3" y2="1650" stroke="#8a8a8a" stroke-width="1"/>
<text x="97.3" y="1662.6" font-size="12" fill="#6a6a6a" text-anchor="middle" font-weight="bold">0</text>
<line x1="163.4" y1="1646" x2="163.4" y2="1650" stroke="#8a8a8a" stroke-width="1"/>
<text x="163.4" y="1662.6" font-size="12" fill="#6a6a6a" text-anchor="middle" font-weight="bold">20</text>
<line x1="229.5" y1="1646" x2="229.5" y2="1650" stroke="#8a8a8a" stroke-width="1"/>
<text x="229.5" y="1662.6" font-size="12" fill="#6a6a6a" text-anchor="middle" font-weight="bold">40</text>
<line x1="295.6" y1="1646" x2="295.6" y2="1650" stroke="#8a8a8a" stroke-width="1"/>
<text x="295.6" y="1662.6" font-size="12" fill="#6a6a6a" text-anchor="middle" font-weight="bold">60</text>
<line x1="361.7" y1="1646" x2="361.7" y2="1650" stroke="#8a8a8a" stroke-width="1"/>
<text x="361.7" y="1662.6" font-size="12" fill="#6a6a6a" text-anchor="middle" font-weight="bold">80</text>
<line x1="427.8" y1="1646" x2="427.8" y2="1650" stroke="#8a8a8a" stroke-width="1"/>
<text x="427.8" y="1662.6" font-size="12" fill="#6a6a6a" text-anchor="middle" font-weight="bold">100</text>
<line x1="493.9" y1="1646" x2="493.9" y2="1650" stroke="#8a8a8a" stroke-width="1"/>
<text x="493.9" y="1662.6" font-size="12" fill="#6a6a6a" text-anchor="middle" font-weight="bold">120</text>
<line x1="560.0" y1="1646" x2="560.0" y2="1650" stroke="#8a8a8a" stroke-width="1"/>
<text x="560.0" y="1662.6" font-size="12" fill="#6a6a6a" text-anchor="middle" font-weight="bold">140</text>
<line x1="626.1" y1="1646" x2="626.1" y2="1650" stroke="#8a8a8a" stroke-width="1"/>
<text x="626.1" y="1662.6" font-size="12" fill="#6a6a6a" text-anchor="middle" font-weight="bold">160</text>
<line x1="692.2" y1="1646" x2="692.2" y2="1650" stroke="#8a8a8a" stroke-width="1"/>
<text x="692.2" y="1662.6" font-size="12" fill="#6a6a6a" text-anchor="middle" font-weight="bold">180</text>
<line x1="758.3" y1="1646" x2="758.3" y2="1650" stroke="#8a8a8a" stroke-width="1"/>
<text x="758.3" y="1662.6" font-size="12" fill="#6a6a6a" text-anchor="middle" font-weight="bold">200</text>
<line x1="81.2" y1="1241.2" x2="85.2" y2="1241.2" stroke="#8a8a8a" stroke-width="1"/>
<text x="76.2" y="1246.4" font-size="14.5" fill="#555" text-anchor="end" font-weight="bold">7.5</text>
<line x1="81.2" y1="1314.4" x2="85.2" y2="1314.4" stroke="#8a8a8a" stroke-width="1"/>
<text x="76.2" y="1319.6" font-size="14.5" fill="#555" text-anchor="end" font-weight="bold">7.4</text>
<line x1="81.2" y1="1387.1" x2="85.2" y2="1387.1" stroke="#8a8a8a" stroke-width="1"/>
<text x="76.2" y="1392.3" font-size="14.5" fill="#555" text-anchor="end" font-weight="bold">7.3</text>
<line x1="81.2" y1="1459.8" x2="85.2" y2="1459.8" stroke="#8a8a8a" stroke-width="1"/>
<text x="76.2" y="1465.0" font-size="14.5" fill="#555" text-anchor="end" font-weight="bold">7.2</text>
<line x1="81.2" y1="1533.0" x2="85.2" y2="1533.0" stroke="#8a8a8a" stroke-width="1"/>
<text x="76.2" y="1538.2" font-size="14.5" fill="#555" text-anchor="end" font-weight="bold">7.1</text>
<line x1="81.2" y1="1605.2" x2="85.2" y2="1605.2" stroke="#8a8a8a" stroke-width="1"/>
<text x="76.2" y="1610.4" font-size="14.5" fill="#555" text-anchor="end" font-weight="bold">7.0</text>
<clipPath id="yl_f"><rect x="23.5" y="1222" width="40" height="481.5"/></clipPath>
<g clip-path="url(#yl_f)">
<text transform="translate(48.7,1693.5) rotate(-90)" x="0" y="0" font-size="14.5" font-weight="bold" fill="#555" textLength="496.9" lengthAdjust="spacingAndGlyphs">MVA_UVA.64.Cytidine monophosphate (CMP).LOG_Peakarea_outliers-excluded</text>
</g>
<text x="420.0" y="1686.2" font-size="13" fill="#505050" text-anchor="middle" font-weight="bold" textLength="145.0" lengthAdjust="spacingAndGlyphs">Inoculation-Duration_h</text>
<line x1="81.2" y1="1438.6" x2="675" y2="1222.8" stroke="#858585" stroke-width="2.6"/>
<text transform="translate(590.0,1266.0) rotate(-20.0)" x="0" y="4" font-size="12" fill="#9a9a9a" text-anchor="middle">r = 0.66</text>
<circle cx="97.3" cy="1615.6" r="5" fill="#82c8f0" stroke="#4db0ea" stroke-width="2.2"/>
<circle cx="97.3" cy="1639.2" r="5" fill="#82c8f0" stroke="#4db0ea" stroke-width="2.2"/>
<circle cx="123.7" cy="1381.4" r="5" fill="#e98c80" stroke="#e05a4a" stroke-width="2.2"/>
<circle cx="123.7" cy="1406.0" r="5" fill="#e98c80" stroke="#e05a4a" stroke-width="2.2"/>
<circle cx="137.0" cy="1311.0" r="5" fill="#b6e576" stroke="#96da3c" stroke-width="2.2"/>
<circle cx="137.0" cy="1319.0" r="5" fill="#b6e576" stroke="#96da3c" stroke-width="2.2"/>
<circle cx="176.6" cy="1391.3" r="5" fill="#efbc84" stroke="#e8a050" stroke-width="2.2"/>
<circle cx="176.6" cy="1395.6" r="5" fill="#efbc84" stroke="#e8a050" stroke-width="2.2"/>
<circle cx="255.9" cy="1307.3" r="5" fill="#eceb6a" stroke="#e4e22a" stroke-width="2.2"/>
<circle cx="255.9" cy="1317.7" r="5" fill="#eceb6a" stroke="#e4e22a" stroke-width="2.2"/>
<circle cx="414.6" cy="1266.2" r="5" fill="#e984e9" stroke="#e050e0" stroke-width="2.2"/>
<circle cx="414.6" cy="1301.2" r="5" fill="#e984e9" stroke="#e050e0" stroke-width="2.2"/>
<circle cx="745.1" cy="1231.8" r="5" fill="#74ebf2" stroke="#38e2ec" stroke-width="2.2"/>
<circle cx="745.1" cy="1239.3" r="5" fill="#74ebf2" stroke="#38e2ec" stroke-width="2.2"/>
<rect x="713.9" y="1453.7" width="42.5" height="182.29999999999995" rx="2" fill="#f3f3f3" stroke="#e2e2e2" stroke-width="1"/>
<circle cx="727.9" cy="1471.2" r="5" fill="#82c8f0" stroke="#4db0ea" stroke-width="2.2"/>
<text x="738.4" y="1475.7" font-size="12.5" fill="#4a4a4a" font-weight="bold">0</text>
<circle cx="727.9" cy="1495.8" r="5" fill="#e98c80" stroke="#e05a4a" stroke-width="2.2"/>
<text x="738.4" y="1500.2" font-size="12.5" fill="#4a4a4a" font-weight="bold">1</text>
<circle cx="727.9" cy="1520.3" r="5" fill="#b6e576" stroke="#96da3c" stroke-width="2.2"/>
<text x="738.4" y="1524.8" font-size="12.5" fill="#4a4a4a" font-weight="bold">2</text>
<circle cx="727.9" cy="1544.8" r="5" fill="#efbc84" stroke="#e8a050" stroke-width="2.2"/>
<text x="738.4" y="1549.3" font-size="12.5" fill="#4a4a4a" font-weight="bold">3</text>
<circle cx="727.9" cy="1569.4" r="5" fill="#eceb6a" stroke="#e4e22a" stroke-width="2.2"/>
<text x="738.4" y="1573.9" font-size="12.5" fill="#4a4a4a" font-weight="bold">4</text>
<circle cx="727.9" cy="1594.0" r="5" fill="#e984e9" stroke="#e050e0" stroke-width="2.2"/>
<text x="738.4" y="1598.5" font-size="12.5" fill="#4a4a4a" font-weight="bold">5</text>
<circle cx="727.9" cy="1618.5" r="5" fill="#74ebf2" stroke="#38e2ec" stroke-width="2.2"/>
<text x="738.4" y="1623.0" font-size="12.5" fill="#4a4a4a" font-weight="bold">6</text>
</g>
<text x="42.0" y="1193.0" font-size="45" fill="#1a1a1a">(f)</text>
<text x="401.5" y="1206.8" font-size="28" fill="#222" text-anchor="middle" textLength="315.7" lengthAdjust="spacingAndGlyphs">Cytidine monophosphate</text>
<clipPath id="clip_g"><rect x="770" y="1222" width="739" height="478"/></clipPath>
<g clip-path="url(#clip_g)">
<path d="M834.1,1223.7 L834.1,1649 L1507,1649" fill="none" stroke="#9a9a9a" stroke-width="2.2"/>
<line x1="849.2" y1="1645" x2="849.2" y2="1649" stroke="#8a8a8a" stroke-width="1"/>
<text x="849.2" y="1661.6" font-size="12" fill="#6a6a6a" text-anchor="middle" font-weight="bold">0</text>
<line x1="914.8" y1="1645" x2="914.8" y2="1649" stroke="#8a8a8a" stroke-width="1"/>
<text x="914.8" y="1661.6" font-size="12" fill="#6a6a6a" text-anchor="middle" font-weight="bold">20</text>
<line x1="980.5" y1="1645" x2="980.5" y2="1649" stroke="#8a8a8a" stroke-width="1"/>
<text x="980.5" y="1661.6" font-size="12" fill="#6a6a6a" text-anchor="middle" font-weight="bold">40</text>
<line x1="1046.1" y1="1645" x2="1046.1" y2="1649" stroke="#8a8a8a" stroke-width="1"/>
<text x="1046.1" y="1661.6" font-size="12" fill="#6a6a6a" text-anchor="middle" font-weight="bold">60</text>
<line x1="1111.7" y1="1645" x2="1111.7" y2="1649" stroke="#8a8a8a" stroke-width="1"/>
<text x="1111.7" y="1661.6" font-size="12" fill="#6a6a6a" text-anchor="middle" font-weight="bold">80</text>
<line x1="1177.3" y1="1645" x2="1177.3" y2="1649" stroke="#8a8a8a" stroke-width="1"/>
<text x="1177.3" y="1661.6" font-size="12" fill="#6a6a6a" text-anchor="middle" font-weight="bold">100</text>
<line x1="1243.0" y1="1645" x2="1243.0" y2="1649" stroke="#8a8a8a" stroke-width="1"/>
<text x="1243.0" y="1661.6" font-size="12" fill="#6a6a6a" text-anchor="middle" font-weight="bold">120</text>
<line x1="1308.6" y1="1645" x2="1308.6" y2="1649" stroke="#8a8a8a" stroke-width="1"/>
<text x="1308.6" y="1661.6" font-size="12" fill="#6a6a6a" text-anchor="middle" font-weight="bold">140</text>
<line x1="1374.2" y1="1645" x2="1374.2" y2="1649" stroke="#8a8a8a" stroke-width="1"/>
<text x="1374.2" y="1661.6" font-size="12" fill="#6a6a6a" text-anchor="middle" font-weight="bold">160</text>
<line x1="1439.9" y1="1645" x2="1439.9" y2="1649" stroke="#8a8a8a" stroke-width="1"/>
<text x="1439.9" y="1661.6" font-size="12" fill="#6a6a6a" text-anchor="middle" font-weight="bold">180</text>
<line x1="1505.5" y1="1645" x2="1505.5" y2="1649" stroke="#8a8a8a" stroke-width="1"/>
<text x="1505.5" y="1661.6" font-size="12" fill="#6a6a6a" text-anchor="middle" font-weight="bold">200</text>
<line x1="834.1" y1="1257.7" x2="838.1" y2="1257.7" stroke="#8a8a8a" stroke-width="1"/>
<text x="829.1" y="1262.9" font-size="14.5" fill="#555" text-anchor="end" font-weight="bold">7.48</text>
<line x1="834.1" y1="1315.3" x2="838.1" y2="1315.3" stroke="#8a8a8a" stroke-width="1"/>
<text x="829.1" y="1320.5" font-size="14.5" fill="#555" text-anchor="end" font-weight="bold">7.46</text>
<line x1="834.1" y1="1373.4" x2="838.1" y2="1373.4" stroke="#8a8a8a" stroke-width="1"/>
<text x="829.1" y="1378.6" font-size="14.5" fill="#555" text-anchor="end" font-weight="bold">7.44</text>
<line x1="834.1" y1="1432.0" x2="838.1" y2="1432.0" stroke="#8a8a8a" stroke-width="1"/>
<text x="829.1" y="1437.2" font-size="14.5" fill="#555" text-anchor="end" font-weight="bold">7.42</text>
<line x1="834.1" y1="1490.0" x2="838.1" y2="1490.0" stroke="#8a8a8a" stroke-width="1"/>
<text x="829.1" y="1495.2" font-size="14.5" fill="#555" text-anchor="end" font-weight="bold">7.4</text>
<line x1="834.1" y1="1548.6" x2="838.1" y2="1548.6" stroke="#8a8a8a" stroke-width="1"/>
<text x="829.1" y="1553.8" font-size="14.5" fill="#555" text-anchor="end" font-weight="bold">7.38</text>
<line x1="834.1" y1="1606.6" x2="838.1" y2="1606.6" stroke="#8a8a8a" stroke-width="1"/>
<text x="829.1" y="1611.8" font-size="14.5" fill="#555" text-anchor="end" font-weight="bold">7.36</text>
<text transform="translate(788.7,1629.0) rotate(-90)" x="0" y="0" font-size="14.5" font-weight="bold" fill="#555" textLength="327.0" lengthAdjust="spacingAndGlyphs">UVA.159.Orotidine.LOG_Peakarea_outliers-excluded</text>
<text x="1167.0" y="1686.2" font-size="13" fill="#505050" text-anchor="middle" font-weight="bold" textLength="145.0" lengthAdjust="spacingAndGlyphs">Inoculation-Duration_h</text>
<line x1="834.1" y1="1522.6" x2="1508.3" y2="1264.8" stroke="#858585" stroke-width="2.6"/>
<text transform="translate(1411.6,1315.8) rotate(-20.9)" x="0" y="4" font-size="12" fill="#9a9a9a" text-anchor="middle">r = 0.64</text>
<circle cx="849.2" cy="1438.6" r="5" fill="#82c8f0" stroke="#4db0ea" stroke-width="2.2"/>
<circle cx="849.2" cy="1456.0" r="5" fill="#82c8f0" stroke="#4db0ea" stroke-width="2.2"/>
<circle cx="875.5" cy="1570.3" r="5" fill="#e98c80" stroke="#e05a4a" stroke-width="2.2"/>
<circle cx="875.5" cy="1593.4" r="5" fill="#e98c80" stroke="#e05a4a" stroke-width="2.2"/>
<circle cx="888.6" cy="1278.0" r="5" fill="#b6e576" stroke="#96da3c" stroke-width="2.2"/>
<circle cx="888.6" cy="1390.4" r="5" fill="#b6e576" stroke="#96da3c" stroke-width="2.2"/>
<circle cx="928.0" cy="1563.2" r="5" fill="#efbc84" stroke="#e8a050" stroke-width="2.2"/>
<circle cx="928.0" cy="1639.2" r="5" fill="#efbc84" stroke="#e8a050" stroke-width="2.2"/>
<circle cx="1006.7" cy="1521.7" r="5" fill="#eceb6a" stroke="#e4e22a" stroke-width="2.2"/>
<circle cx="1006.7" cy="1566.0" r="5" fill="#eceb6a" stroke="#e4e22a" stroke-width="2.2"/>
<circle cx="1164.2" cy="1366.3" r="5" fill="#e984e9" stroke="#e050e0" stroke-width="2.2"/>
<circle cx="1164.2" cy="1389.5" r="5" fill="#e984e9" stroke="#e050e0" stroke-width="2.2"/>
<circle cx="1492.4" cy="1232.2" r="5" fill="#74ebf2" stroke="#38e2ec" stroke-width="2.2"/>
<circle cx="1492.4" cy="1274.3" r="5" fill="#74ebf2" stroke="#38e2ec" stroke-width="2.2"/>
<rect x="1458.5" y="1453.8" width="41.799999999999955" height="180.9000000000001" rx="2" fill="#f3f3f3" stroke="#e2e2e2" stroke-width="1"/>
<circle cx="1472.5" cy="1471.3" r="5" fill="#82c8f0" stroke="#4db0ea" stroke-width="2.2"/>
<text x="1483.0" y="1475.8" font-size="12.5" fill="#4a4a4a" font-weight="bold">0</text>
<circle cx="1472.5" cy="1495.6" r="5" fill="#e98c80" stroke="#e05a4a" stroke-width="2.2"/>
<text x="1483.0" y="1500.1" font-size="12.5" fill="#4a4a4a" font-weight="bold">1</text>
<circle cx="1472.5" cy="1519.9" r="5" fill="#b6e576" stroke="#96da3c" stroke-width="2.2"/>
<text x="1483.0" y="1524.4" font-size="12.5" fill="#4a4a4a" font-weight="bold">2</text>
<circle cx="1472.5" cy="1544.2" r="5" fill="#efbc84" stroke="#e8a050" stroke-width="2.2"/>
<text x="1483.0" y="1548.8" font-size="12.5" fill="#4a4a4a" font-weight="bold">3</text>
<circle cx="1472.5" cy="1568.6" r="5" fill="#eceb6a" stroke="#e4e22a" stroke-width="2.2"/>
<text x="1483.0" y="1573.1" font-size="12.5" fill="#4a4a4a" font-weight="bold">4</text>
<circle cx="1472.5" cy="1592.9" r="5" fill="#e984e9" stroke="#e050e0" stroke-width="2.2"/>
<text x="1483.0" y="1597.4" font-size="12.5" fill="#4a4a4a" font-weight="bold">5</text>
<circle cx="1472.5" cy="1617.2" r="5" fill="#74ebf2" stroke="#38e2ec" stroke-width="2.2"/>
<text x="1483.0" y="1621.7" font-size="12.5" fill="#4a4a4a" font-weight="bold">6</text>
</g>
<text x="777.0" y="1193.0" font-size="45" fill="#1a1a1a">(g)</text>
<text x="1146.7" y="1206.2" font-size="28" fill="#222" text-anchor="middle" textLength="114.3" lengthAdjust="spacingAndGlyphs">Orotidine</text>
<clipPath id="clip_h"><rect x="1515" y="1222" width="747" height="478"/></clipPath>
<g clip-path="url(#clip_h)">
<path d="M1576.9,1223.5 L1576.9,1650 L2259,1650" fill="none" stroke="#9a9a9a" stroke-width="2.2"/>
<line x1="1592.2" y1="1646" x2="1592.2" y2="1650" stroke="#8a8a8a" stroke-width="1"/>
<text x="1592.2" y="1662.6" font-size="12" fill="#6a6a6a" text-anchor="middle" font-weight="bold">0</text>
<line x1="1658.3" y1="1646" x2="1658.3" y2="1650" stroke="#8a8a8a" stroke-width="1"/>
<text x="1658.3" y="1662.6" font-size="12" fill="#6a6a6a" text-anchor="middle" font-weight="bold">20</text>
<line x1="1724.4" y1="1646" x2="1724.4" y2="1650" stroke="#8a8a8a" stroke-width="1"/>
<text x="1724.4" y="1662.6" font-size="12" fill="#6a6a6a" text-anchor="middle" font-weight="bold">40</text>
<line x1="1790.5" y1="1646" x2="1790.5" y2="1650" stroke="#8a8a8a" stroke-width="1"/>
<text x="1790.5" y="1662.6" font-size="12" fill="#6a6a6a" text-anchor="middle" font-weight="bold">60</text>
<line x1="1856.6" y1="1646" x2="1856.6" y2="1650" stroke="#8a8a8a" stroke-width="1"/>
<text x="1856.6" y="1662.6" font-size="12" fill="#6a6a6a" text-anchor="middle" font-weight="bold">80</text>
<line x1="1922.7" y1="1646" x2="1922.7" y2="1650" stroke="#8a8a8a" stroke-width="1"/>
<text x="1922.7" y="1662.6" font-size="12" fill="#6a6a6a" text-anchor="middle" font-weight="bold">100</text>
<line x1="1988.8" y1="1646" x2="1988.8" y2="1650" stroke="#8a8a8a" stroke-width="1"/>
<text x="1988.8" y="1662.6" font-size="12" fill="#6a6a6a" text-anchor="middle" font-weight="bold">120</text>
<line x1="2054.9" y1="1646" x2="2054.9" y2="1650" stroke="#8a8a8a" stroke-width="1"/>
<text x="2054.9" y="1662.6" font-size="12" fill="#6a6a6a" text-anchor="middle" font-weight="bold">140</text>
<line x1="2121.0" y1="1646" x2="2121.0" y2="1650" stroke="#8a8a8a" stroke-width="1"/>
<text x="2121.0" y="1662.6" font-size="12" fill="#6a6a6a" text-anchor="middle" font-weight="bold">160</text>
<line x1="2187.1" y1="1646" x2="2187.1" y2="1650" stroke="#8a8a8a" stroke-width="1"/>
<text x="2187.1" y="1662.6" font-size="12" fill="#6a6a6a" text-anchor="middle" font-weight="bold">180</text>
<line x1="2253.2" y1="1646" x2="2253.2" y2="1650" stroke="#8a8a8a" stroke-width="1"/>
<text x="2253.2" y="1662.6" font-size="12" fill="#6a6a6a" text-anchor="middle" font-weight="bold">200</text>
<line x1="1576.9" y1="1245.9" x2="1580.9" y2="1245.9" stroke="#8a8a8a" stroke-width="1"/>
<text x="1571.9" y="1251.1" font-size="14.5" fill="#555" text-anchor="end" font-weight="bold">6.3</text>
<line x1="1576.9" y1="1305.9" x2="1580.9" y2="1305.9" stroke="#8a8a8a" stroke-width="1"/>
<text x="1571.9" y="1311.1" font-size="14.5" fill="#555" text-anchor="end" font-weight="bold">6.2</text>
<line x1="1576.9" y1="1365.4" x2="1580.9" y2="1365.4" stroke="#8a8a8a" stroke-width="1"/>
<text x="1571.9" y="1370.6" font-size="14.5" fill="#555" text-anchor="end" font-weight="bold">6.1</text>
<line x1="1576.9" y1="1424.9" x2="1580.9" y2="1424.9" stroke="#8a8a8a" stroke-width="1"/>
<text x="1571.9" y="1430.1" font-size="14.5" fill="#555" text-anchor="end" font-weight="bold">6</text>
<line x1="1576.9" y1="1484.8" x2="1580.9" y2="1484.8" stroke="#8a8a8a" stroke-width="1"/>
<text x="1571.9" y="1490.0" font-size="14.5" fill="#555" text-anchor="end" font-weight="bold">5.9</text>
<line x1="1576.9" y1="1543.9" x2="1580.9" y2="1543.9" stroke="#8a8a8a" stroke-width="1"/>
<text x="1571.9" y="1549.1" font-size="14.5" fill="#555" text-anchor="end" font-weight="bold">5.8</text>
<line x1="1576.9" y1="1603.8" x2="1580.9" y2="1603.8" stroke="#8a8a8a" stroke-width="1"/>
<text x="1571.9" y="1609.0" font-size="14.5" fill="#555" text-anchor="end" font-weight="bold">5.7</text>
<text transform="translate(1540.1,1634.8) rotate(-90)" x="0" y="0" font-size="14.5" font-weight="bold" fill="#555" textLength="399.9" lengthAdjust="spacingAndGlyphs">MVA_UVA.181.Phosphoserine.LOG_Peakarea_outliers-excluded</text>
<text x="1914.2" y="1686.2" font-size="13" fill="#505050" text-anchor="middle" font-weight="bold" textLength="145.0" lengthAdjust="spacingAndGlyphs">Inoculation-Duration_h</text>
<line x1="1576.7" y1="1338.5" x2="2258.9" y2="1635.5" stroke="#858585" stroke-width="2.6"/>
<text transform="translate(2159.7,1580.2) rotate(23.5)" x="0" y="4" font-size="12" fill="#9a9a9a" text-anchor="middle">r = -0.84</text>
<circle cx="1592.2" cy="1441.9" r="5" fill="#82c8f0" stroke="#4db0ea" stroke-width="2.2"/>
<circle cx="1592.2" cy="1450.4" r="5" fill="#82c8f0" stroke="#4db0ea" stroke-width="2.2"/>
<circle cx="1618.6" cy="1304.0" r="5" fill="#e98c80" stroke="#e05a4a" stroke-width="2.2"/>
<circle cx="1618.6" cy="1372.0" r="5" fill="#e98c80" stroke="#e05a4a" stroke-width="2.2"/>
<circle cx="1631.9" cy="1232.2" r="5" fill="#b6e576" stroke="#96da3c" stroke-width="2.2"/>
<circle cx="1631.9" cy="1284.2" r="5" fill="#b6e576" stroke="#96da3c" stroke-width="2.2"/>
<circle cx="1671.5" cy="1377.2" r="5" fill="#efbc84" stroke="#e8a050" stroke-width="2.2"/>
<circle cx="1671.5" cy="1405.0" r="5" fill="#efbc84" stroke="#e8a050" stroke-width="2.2"/>
<circle cx="1750.8" cy="1393.7" r="5" fill="#eceb6a" stroke="#e4e22a" stroke-width="2.2"/>
<circle cx="1750.8" cy="1428.6" r="5" fill="#eceb6a" stroke="#e4e22a" stroke-width="2.2"/>
<circle cx="1909.5" cy="1478.2" r="5" fill="#e984e9" stroke="#e050e0" stroke-width="2.2"/>
<circle cx="1909.5" cy="1535.8" r="5" fill="#e984e9" stroke="#e050e0" stroke-width="2.2"/>
<circle cx="2240.0" cy="1610.4" r="5" fill="#74ebf2" stroke="#38e2ec" stroke-width="2.2"/>
<circle cx="2240.0" cy="1639.7" r="5" fill="#74ebf2" stroke="#38e2ec" stroke-width="2.2"/>
<rect x="2203.1" y="1228.4" width="43.09999999999991" height="180.0999999999999" rx="2" fill="#f3f3f3" stroke="#e2e2e2" stroke-width="1"/>
<circle cx="2217.1" cy="1245.9" r="5" fill="#82c8f0" stroke="#4db0ea" stroke-width="2.2"/>
<text x="2227.6" y="1250.4" font-size="12.5" fill="#4a4a4a" font-weight="bold">0</text>
<circle cx="2217.1" cy="1270.1" r="5" fill="#e98c80" stroke="#e05a4a" stroke-width="2.2"/>
<text x="2227.6" y="1274.6" font-size="12.5" fill="#4a4a4a" font-weight="bold">1</text>
<circle cx="2217.1" cy="1294.3" r="5" fill="#b6e576" stroke="#96da3c" stroke-width="2.2"/>
<text x="2227.6" y="1298.8" font-size="12.5" fill="#4a4a4a" font-weight="bold">2</text>
<circle cx="2217.1" cy="1318.5" r="5" fill="#efbc84" stroke="#e8a050" stroke-width="2.2"/>
<text x="2227.6" y="1323.0" font-size="12.5" fill="#4a4a4a" font-weight="bold">3</text>
<circle cx="2217.1" cy="1342.6" r="5" fill="#eceb6a" stroke="#e4e22a" stroke-width="2.2"/>
<text x="2227.6" y="1347.1" font-size="12.5" fill="#4a4a4a" font-weight="bold">4</text>
<circle cx="2217.1" cy="1366.8" r="5" fill="#e984e9" stroke="#e050e0" stroke-width="2.2"/>
<text x="2227.6" y="1371.3" font-size="12.5" fill="#4a4a4a" font-weight="bold">5</text>
<circle cx="2217.1" cy="1391.0" r="5" fill="#74ebf2" stroke="#38e2ec" stroke-width="2.2"/>
<text x="2227.6" y="1395.5" font-size="12.5" fill="#4a4a4a" font-weight="bold">6</text>
</g>
<text x="1517.5" y="1193.0" font-size="45" fill="#1a1a1a">(h)</text>
<text x="1879.0" y="1200.5" font-size="28" fill="#222" text-anchor="middle" textLength="190.6" lengthAdjust="spacingAndGlyphs">Phosphoserine</text>
<clipPath id="clip_i"><rect x="28" y="1745" width="739" height="487"/></clipPath>
<g clip-path="url(#clip_i)">
<path d="M83.6,1751.4 L83.6,2177.7 L767,2177.7" fill="none" stroke="#9a9a9a" stroke-width="2.2"/>
<line x1="98.7" y1="2173.7" x2="98.7" y2="2177.7" stroke="#8a8a8a" stroke-width="1"/>
<text x="98.7" y="2190.3" font-size="12" fill="#6a6a6a" text-anchor="middle" font-weight="bold">0</text>
<line x1="164.8" y1="2173.7" x2="164.8" y2="2177.7" stroke="#8a8a8a" stroke-width="1"/>
<text x="164.8" y="2190.3" font-size="12" fill="#6a6a6a" text-anchor="middle" font-weight="bold">20</text>
<line x1="230.9" y1="2173.7" x2="230.9" y2="2177.7" stroke="#8a8a8a" stroke-width="1"/>
<text x="230.9" y="2190.3" font-size="12" fill="#6a6a6a" text-anchor="middle" font-weight="bold">40</text>
<line x1="297.0" y1="2173.7" x2="297.0" y2="2177.7" stroke="#8a8a8a" stroke-width="1"/>
<text x="297.0" y="2190.3" font-size="12" fill="#6a6a6a" text-anchor="middle" font-weight="bold">60</text>
<line x1="363.1" y1="2173.7" x2="363.1" y2="2177.7" stroke="#8a8a8a" stroke-width="1"/>
<text x="363.1" y="2190.3" font-size="12" fill="#6a6a6a" text-anchor="middle" font-weight="bold">80</text>
<line x1="429.2" y1="2173.7" x2="429.2" y2="2177.7" stroke="#8a8a8a" stroke-width="1"/>
<text x="429.2" y="2190.3" font-size="12" fill="#6a6a6a" text-anchor="middle" font-weight="bold">100</text>
<line x1="495.3" y1="2173.7" x2="495.3" y2="2177.7" stroke="#8a8a8a" stroke-width="1"/>
<text x="495.3" y="2190.3" font-size="12" fill="#6a6a6a" text-anchor="middle" font-weight="bold">120</text>
<line x1="561.4" y1="2173.7" x2="561.4" y2="2177.7" stroke="#8a8a8a" stroke-width="1"/>
<text x="561.4" y="2190.3" font-size="12" fill="#6a6a6a" text-anchor="middle" font-weight="bold">140</text>
<line x1="627.5" y1="2173.7" x2="627.5" y2="2177.7" stroke="#8a8a8a" stroke-width="1"/>
<text x="627.5" y="2190.3" font-size="12" fill="#6a6a6a" text-anchor="middle" font-weight="bold">160</text>
<line x1="693.6" y1="2173.7" x2="693.6" y2="2177.7" stroke="#8a8a8a" stroke-width="1"/>
<text x="693.6" y="2190.3" font-size="12" fill="#6a6a6a" text-anchor="middle" font-weight="bold">180</text>
<line x1="759.7" y1="2173.7" x2="759.7" y2="2177.7" stroke="#8a8a8a" stroke-width="1"/>
<text x="759.7" y="2190.3" font-size="12" fill="#6a6a6a" text-anchor="middle" font-weight="bold">200</text>
<line x1="83.6" y1="1778.3" x2="87.6" y2="1778.3" stroke="#8a8a8a" stroke-width="1"/>
<text x="78.6" y="1783.5" font-size="14.5" fill="#555" text-anchor="end" font-weight="bold">7.2</text>
<line x1="83.6" y1="1836.4" x2="87.6" y2="1836.4" stroke="#8a8a8a" stroke-width="1"/>
<text x="78.6" y="1841.6" font-size="14.5" fill="#555" text-anchor="end" font-weight="bold">7</text>
<line x1="83.6" y1="1894.4" x2="87.6" y2="1894.4" stroke="#8a8a8a" stroke-width="1"/>
<text x="78.6" y="1899.6" font-size="14.5" fill="#555" text-anchor="end" font-weight="bold">6.8</text>
<line x1="83.6" y1="1952.5" x2="87.6" y2="1952.5" stroke="#8a8a8a" stroke-width="1"/>
<text x="78.6" y="1957.7" font-size="14.5" fill="#555" text-anchor="end" font-weight="bold">6.6</text>
<line x1="83.6" y1="2011.0" x2="87.6" y2="2011.0" stroke="#8a8a8a" stroke-width="1"/>
<text x="78.6" y="2016.2" font-size="14.5" fill="#555" text-anchor="end" font-weight="bold">6.4</text>
<line x1="83.6" y1="2069.1" x2="87.6" y2="2069.1" stroke="#8a8a8a" stroke-width="1"/>
<text x="78.6" y="2074.3" font-size="14.5" fill="#555" text-anchor="end" font-weight="bold">6.2</text>
<line x1="83.6" y1="2127.7" x2="87.6" y2="2127.7" stroke="#8a8a8a" stroke-width="1"/>
<text x="78.6" y="2132.9" font-size="14.5" fill="#555" text-anchor="end" font-weight="bold">6</text>
<text transform="translate(47.7,2163.3) rotate(-90)" x="0" y="0" font-size="14.5" font-weight="bold" fill="#555" textLength="352.1" lengthAdjust="spacingAndGlyphs">MVA_UVA.60.Creatine.LOG_Peakarea_outliers-excluded</text>
<text x="420.2" y="2215.3" font-size="13" fill="#505050" text-anchor="middle" font-weight="bold" textLength="145.0" lengthAdjust="spacingAndGlyphs">Inoculation-Duration_h</text>
<line x1="92" y1="1750.4" x2="765.8" y2="2014.8" stroke="#858585" stroke-width="2.6"/>
<text transform="translate(658.6,1987.5) rotate(21.4)" x="0" y="4" font-size="12" fill="#9a9a9a" text-anchor="middle">r = -0.80</text>
<circle cx="98.7" cy="1764.6" r="5" fill="#82c8f0" stroke="#4db0ea" stroke-width="2.2"/>
<circle cx="98.7" cy="1778.3" r="5" fill="#82c8f0" stroke="#4db0ea" stroke-width="2.2"/>
<circle cx="125.1" cy="1761.8" r="5" fill="#e98c80" stroke="#e05a4a" stroke-width="2.2"/>
<circle cx="125.1" cy="1768.4" r="5" fill="#e98c80" stroke="#e05a4a" stroke-width="2.2"/>
<circle cx="138.4" cy="1788.7" r="5" fill="#b6e576" stroke="#96da3c" stroke-width="2.2"/>
<circle cx="138.4" cy="1868.0" r="5" fill="#b6e576" stroke="#96da3c" stroke-width="2.2"/>
<circle cx="178.0" cy="1773.6" r="5" fill="#efbc84" stroke="#e8a050" stroke-width="2.2"/>
<circle cx="178.0" cy="1773.6" r="5" fill="#efbc84" stroke="#e8a050" stroke-width="2.2"/>
<circle cx="257.3" cy="1769.3" r="5" fill="#eceb6a" stroke="#e4e22a" stroke-width="2.2"/>
<circle cx="257.3" cy="1780.2" r="5" fill="#eceb6a" stroke="#e4e22a" stroke-width="2.2"/>
<circle cx="416.0" cy="1808.0" r="5" fill="#e984e9" stroke="#e050e0" stroke-width="2.2"/>
<circle cx="416.0" cy="1808.0" r="5" fill="#e984e9" stroke="#e050e0" stroke-width="2.2"/>
<circle cx="746.5" cy="1932.2" r="5" fill="#74ebf2" stroke="#38e2ec" stroke-width="2.2"/>
<circle cx="746.5" cy="2167.8" r="5" fill="#74ebf2" stroke="#38e2ec" stroke-width="2.2"/>
<rect x="98" y="1984.8" width="42.099999999999994" height="180.60000000000014" rx="2" fill="#f3f3f3" stroke="#e2e2e2" stroke-width="1"/>
<circle cx="112.0" cy="2002.3" r="5" fill="#82c8f0" stroke="#4db0ea" stroke-width="2.2"/>
<text x="122.5" y="2006.8" font-size="12.5" fill="#4a4a4a" font-weight="bold">0</text>
<circle cx="112.0" cy="2026.6" r="5" fill="#e98c80" stroke="#e05a4a" stroke-width="2.2"/>
<text x="122.5" y="2031.1" font-size="12.5" fill="#4a4a4a" font-weight="bold">1</text>
<circle cx="112.0" cy="2050.8" r="5" fill="#b6e576" stroke="#96da3c" stroke-width="2.2"/>
<text x="122.5" y="2055.3" font-size="12.5" fill="#4a4a4a" font-weight="bold">2</text>
<circle cx="112.0" cy="2075.1" r="5" fill="#efbc84" stroke="#e8a050" stroke-width="2.2"/>
<text x="122.5" y="2079.6" font-size="12.5" fill="#4a4a4a" font-weight="bold">3</text>
<circle cx="112.0" cy="2099.4" r="5" fill="#eceb6a" stroke="#e4e22a" stroke-width="2.2"/>
<text x="122.5" y="2103.9" font-size="12.5" fill="#4a4a4a" font-weight="bold">4</text>
<circle cx="112.0" cy="2123.6" r="5" fill="#e984e9" stroke="#e050e0" stroke-width="2.2"/>
<text x="122.5" y="2128.1" font-size="12.5" fill="#4a4a4a" font-weight="bold">5</text>
<circle cx="112.0" cy="2147.9" r="5" fill="#74ebf2" stroke="#38e2ec" stroke-width="2.2"/>
<text x="122.5" y="2152.4" font-size="12.5" fill="#4a4a4a" font-weight="bold">6</text>
</g>
<text x="41.0" y="1724.0" font-size="45" fill="#1a1a1a">(i)</text>
<text x="402.1" y="1728.9" font-size="28" fill="#222" text-anchor="middle" textLength="108.2" lengthAdjust="spacingAndGlyphs">Creatine</text>
<clipPath id="clip_j"><rect x="770" y="1745" width="745" height="487"/></clipPath>
<g clip-path="url(#clip_j)">
<path d="M835.5,1751.4 L835.5,2179 L1513,2179" fill="none" stroke="#9a9a9a" stroke-width="2.2"/>
<line x1="851.6" y1="2175" x2="851.6" y2="2179" stroke="#8a8a8a" stroke-width="1"/>
<text x="851.6" y="2191.6" font-size="12" fill="#6a6a6a" text-anchor="middle" font-weight="bold">0</text>
<line x1="917.2" y1="2175" x2="917.2" y2="2179" stroke="#8a8a8a" stroke-width="1"/>
<text x="917.2" y="2191.6" font-size="12" fill="#6a6a6a" text-anchor="middle" font-weight="bold">20</text>
<line x1="982.8" y1="2175" x2="982.8" y2="2179" stroke="#8a8a8a" stroke-width="1"/>
<text x="982.8" y="2191.6" font-size="12" fill="#6a6a6a" text-anchor="middle" font-weight="bold">40</text>
<line x1="1048.3" y1="2175" x2="1048.3" y2="2179" stroke="#8a8a8a" stroke-width="1"/>
<text x="1048.3" y="2191.6" font-size="12" fill="#6a6a6a" text-anchor="middle" font-weight="bold">60</text>
<line x1="1113.9" y1="2175" x2="1113.9" y2="2179" stroke="#8a8a8a" stroke-width="1"/>
<text x="1113.9" y="2191.6" font-size="12" fill="#6a6a6a" text-anchor="middle" font-weight="bold">80</text>
<line x1="1179.5" y1="2175" x2="1179.5" y2="2179" stroke="#8a8a8a" stroke-width="1"/>
<text x="1179.5" y="2191.6" font-size="12" fill="#6a6a6a" text-anchor="middle" font-weight="bold">100</text>
<line x1="1245.1" y1="2175" x2="1245.1" y2="2179" stroke="#8a8a8a" stroke-width="1"/>
<text x="1245.1" y="2191.6" font-size="12" fill="#6a6a6a" text-anchor="middle" font-weight="bold">120</text>
<line x1="1310.7" y1="2175" x2="1310.7" y2="2179" stroke="#8a8a8a" stroke-width="1"/>
<text x="1310.7" y="2191.6" font-size="12" fill="#6a6a6a" text-anchor="middle" font-weight="bold">140</text>
<line x1="1376.2" y1="2175" x2="1376.2" y2="2179" stroke="#8a8a8a" stroke-width="1"/>
<text x="1376.2" y="2191.6" font-size="12" fill="#6a6a6a" text-anchor="middle" font-weight="bold">160</text>
<line x1="1441.8" y1="2175" x2="1441.8" y2="2179" stroke="#8a8a8a" stroke-width="1"/>
<text x="1441.8" y="2191.6" font-size="12" fill="#6a6a6a" text-anchor="middle" font-weight="bold">180</text>
<line x1="1507.4" y1="2175" x2="1507.4" y2="2179" stroke="#8a8a8a" stroke-width="1"/>
<text x="1507.4" y="2191.6" font-size="12" fill="#6a6a6a" text-anchor="middle" font-weight="bold">200</text>
<line x1="835.5" y1="1778.3" x2="839.5" y2="1778.3" stroke="#8a8a8a" stroke-width="1"/>
<text x="830.5" y="1783.5" font-size="14.5" fill="#555" text-anchor="end" font-weight="bold">7.16</text>
<line x1="835.5" y1="1813.7" x2="839.5" y2="1813.7" stroke="#8a8a8a" stroke-width="1"/>
<text x="830.5" y="1818.9" font-size="14.5" fill="#555" text-anchor="end" font-weight="bold">7.14</text>
<line x1="835.5" y1="1849.1" x2="839.5" y2="1849.1" stroke="#8a8a8a" stroke-width="1"/>
<text x="830.5" y="1854.3" font-size="14.5" fill="#555" text-anchor="end" font-weight="bold">7.12</text>
<line x1="835.5" y1="1884.0" x2="839.5" y2="1884.0" stroke="#8a8a8a" stroke-width="1"/>
<text x="830.5" y="1889.2" font-size="14.5" fill="#555" text-anchor="end" font-weight="bold">7.1</text>
<line x1="835.5" y1="1919.5" x2="839.5" y2="1919.5" stroke="#8a8a8a" stroke-width="1"/>
<text x="830.5" y="1924.7" font-size="14.5" fill="#555" text-anchor="end" font-weight="bold">7.08</text>
<line x1="835.5" y1="1954.9" x2="839.5" y2="1954.9" stroke="#8a8a8a" stroke-width="1"/>
<text x="830.5" y="1960.1" font-size="14.5" fill="#555" text-anchor="end" font-weight="bold">7.06</text>
<line x1="835.5" y1="1989.8" x2="839.5" y2="1989.8" stroke="#8a8a8a" stroke-width="1"/>
<text x="830.5" y="1995.0" font-size="14.5" fill="#555" text-anchor="end" font-weight="bold">7.04</text>
<line x1="835.5" y1="2025.2" x2="839.5" y2="2025.2" stroke="#8a8a8a" stroke-width="1"/>
<text x="830.5" y="2030.4" font-size="14.5" fill="#555" text-anchor="end" font-weight="bold">7.02</text>
<line x1="835.5" y1="2060.6" x2="839.5" y2="2060.6" stroke="#8a8a8a" stroke-width="1"/>
<text x="830.5" y="2065.8" font-size="14.5" fill="#555" text-anchor="end" font-weight="bold">7.0</text>
<line x1="835.5" y1="2095.6" x2="839.5" y2="2095.6" stroke="#8a8a8a" stroke-width="1"/>
<text x="830.5" y="2100.8" font-size="14.5" fill="#555" text-anchor="end" font-weight="bold">6.98</text>
<line x1="835.5" y1="2131.0" x2="839.5" y2="2131.0" stroke="#8a8a8a" stroke-width="1"/>
<text x="830.5" y="2136.2" font-size="14.5" fill="#555" text-anchor="end" font-weight="bold">6.96</text>
<line x1="835.5" y1="2166.4" x2="839.5" y2="2166.4" stroke="#8a8a8a" stroke-width="1"/>
<text x="830.5" y="2171.6" font-size="14.5" fill="#555" text-anchor="end" font-weight="bold">6.94</text>
<text transform="translate(793.5,2169.9) rotate(-90)" x="0" y="0" font-size="14.5" font-weight="bold" fill="#555" textLength="417.6" lengthAdjust="spacingAndGlyphs">MVA_UVA.171.Panthothenic acid.LOG_Peakarea_outliers-excluded</text>
<text x="1170.8" y="2217.2" font-size="13" fill="#505050" text-anchor="middle" font-weight="bold" textLength="145.0" lengthAdjust="spacingAndGlyphs">Inoculation-Duration_h</text>
<line x1="835.5" y1="1926" x2="1510.7" y2="2177.2" stroke="#858585" stroke-width="2.6"/>
<text transform="translate(1414.0,2129.0) rotate(20.4)" x="0" y="4" font-size="12" fill="#9a9a9a" text-anchor="middle">r = -0.75</text>
<circle cx="851.6" cy="2022.9" r="5" fill="#82c8f0" stroke="#4db0ea" stroke-width="2.2"/>
<circle cx="851.6" cy="2034.2" r="5" fill="#82c8f0" stroke="#4db0ea" stroke-width="2.2"/>
<circle cx="877.8" cy="1906.7" r="5" fill="#e98c80" stroke="#e05a4a" stroke-width="2.2"/>
<circle cx="877.8" cy="1972.8" r="5" fill="#e98c80" stroke="#e05a4a" stroke-width="2.2"/>
<circle cx="890.9" cy="1760.8" r="5" fill="#b6e576" stroke="#96da3c" stroke-width="2.2"/>
<circle cx="890.9" cy="1896.3" r="5" fill="#b6e576" stroke="#96da3c" stroke-width="2.2"/>
<circle cx="930.3" cy="1966.2" r="5" fill="#efbc84" stroke="#e8a050" stroke-width="2.2"/>
<circle cx="930.3" cy="1999.3" r="5" fill="#efbc84" stroke="#e8a050" stroke-width="2.2"/>
<circle cx="1009.0" cy="1908.6" r="5" fill="#eceb6a" stroke="#e4e22a" stroke-width="2.2"/>
<circle cx="1009.0" cy="2035.1" r="5" fill="#eceb6a" stroke="#e4e22a" stroke-width="2.2"/>
<circle cx="1166.4" cy="2070.5" r="5" fill="#e984e9" stroke="#e050e0" stroke-width="2.2"/>
<circle cx="1166.4" cy="2084.2" r="5" fill="#e984e9" stroke="#e050e0" stroke-width="2.2"/>
<circle cx="1494.3" cy="2168.3" r="5" fill="#74ebf2" stroke="#38e2ec" stroke-width="2.2"/>
<circle cx="1494.3" cy="2170.6" r="5" fill="#74ebf2" stroke="#38e2ec" stroke-width="2.2"/>
<rect x="1458" y="1762" width="42.200000000000045" height="181" rx="2" fill="#f3f3f3" stroke="#e2e2e2" stroke-width="1"/>
<circle cx="1472.0" cy="1779.5" r="5" fill="#82c8f0" stroke="#4db0ea" stroke-width="2.2"/>
<text x="1482.5" y="1784.0" font-size="12.5" fill="#4a4a4a" font-weight="bold">0</text>
<circle cx="1472.0" cy="1803.8" r="5" fill="#e98c80" stroke="#e05a4a" stroke-width="2.2"/>
<text x="1482.5" y="1808.3" font-size="12.5" fill="#4a4a4a" font-weight="bold">1</text>
<circle cx="1472.0" cy="1828.2" r="5" fill="#b6e576" stroke="#96da3c" stroke-width="2.2"/>
<text x="1482.5" y="1832.7" font-size="12.5" fill="#4a4a4a" font-weight="bold">2</text>
<circle cx="1472.0" cy="1852.5" r="5" fill="#efbc84" stroke="#e8a050" stroke-width="2.2"/>
<text x="1482.5" y="1857.0" font-size="12.5" fill="#4a4a4a" font-weight="bold">3</text>
<circle cx="1472.0" cy="1876.8" r="5" fill="#eceb6a" stroke="#e4e22a" stroke-width="2.2"/>
<text x="1482.5" y="1881.3" font-size="12.5" fill="#4a4a4a" font-weight="bold">4</text>
<circle cx="1472.0" cy="1901.2" r="5" fill="#e984e9" stroke="#e050e0" stroke-width="2.2"/>
<text x="1482.5" y="1905.7" font-size="12.5" fill="#4a4a4a" font-weight="bold">5</text>
<circle cx="1472.0" cy="1925.5" r="5" fill="#74ebf2" stroke="#38e2ec" stroke-width="2.2"/>
<text x="1482.5" y="1930.0" font-size="12.5" fill="#4a4a4a" font-weight="bold">6</text>
</g>
<text x="779.0" y="1724.0" font-size="45" fill="#1a1a1a">(j)</text>
<text x="1145.6" y="1728.7" font-size="28" fill="#222" text-anchor="middle" textLength="212.8" lengthAdjust="spacingAndGlyphs">Panthotenic Acid</text>
<clipPath id="clip_k"><rect x="1515" y="1745" width="741" height="487"/></clipPath>
<g clip-path="url(#clip_k)">
<path d="M1575.8,1752.8 L1575.8,2179 L2254,2179" fill="none" stroke="#9a9a9a" stroke-width="2.2"/>
<line x1="1591.3" y1="2175" x2="1591.3" y2="2179" stroke="#8a8a8a" stroke-width="1"/>
<text x="1591.3" y="2191.6" font-size="12" fill="#6a6a6a" text-anchor="middle" font-weight="bold">0</text>
<line x1="1656.9" y1="2175" x2="1656.9" y2="2179" stroke="#8a8a8a" stroke-width="1"/>
<text x="1656.9" y="2191.6" font-size="12" fill="#6a6a6a" text-anchor="middle" font-weight="bold">20</text>
<line x1="1722.4" y1="2175" x2="1722.4" y2="2179" stroke="#8a8a8a" stroke-width="1"/>
<text x="1722.4" y="2191.6" font-size="12" fill="#6a6a6a" text-anchor="middle" font-weight="bold">40</text>
<line x1="1788.0" y1="2175" x2="1788.0" y2="2179" stroke="#8a8a8a" stroke-width="1"/>
<text x="1788.0" y="2191.6" font-size="12" fill="#6a6a6a" text-anchor="middle" font-weight="bold">60</text>
<line x1="1853.6" y1="2175" x2="1853.6" y2="2179" stroke="#8a8a8a" stroke-width="1"/>
<text x="1853.6" y="2191.6" font-size="12" fill="#6a6a6a" text-anchor="middle" font-weight="bold">80</text>
<line x1="1919.2" y1="2175" x2="1919.2" y2="2179" stroke="#8a8a8a" stroke-width="1"/>
<text x="1919.2" y="2191.6" font-size="12" fill="#6a6a6a" text-anchor="middle" font-weight="bold">100</text>
<line x1="1984.7" y1="2175" x2="1984.7" y2="2179" stroke="#8a8a8a" stroke-width="1"/>
<text x="1984.7" y="2191.6" font-size="12" fill="#6a6a6a" text-anchor="middle" font-weight="bold">120</text>
<line x1="2050.3" y1="2175" x2="2050.3" y2="2179" stroke="#8a8a8a" stroke-width="1"/>
<text x="2050.3" y="2191.6" font-size="12" fill="#6a6a6a" text-anchor="middle" font-weight="bold">140</text>
<line x1="2115.9" y1="2175" x2="2115.9" y2="2179" stroke="#8a8a8a" stroke-width="1"/>
<text x="2115.9" y="2191.6" font-size="12" fill="#6a6a6a" text-anchor="middle" font-weight="bold">160</text>
<line x1="2181.4" y1="2175" x2="2181.4" y2="2179" stroke="#8a8a8a" stroke-width="1"/>
<text x="2181.4" y="2191.6" font-size="12" fill="#6a6a6a" text-anchor="middle" font-weight="bold">180</text>
<line x1="2247.0" y1="2175" x2="2247.0" y2="2179" stroke="#8a8a8a" stroke-width="1"/>
<text x="2247.0" y="2191.6" font-size="12" fill="#6a6a6a" text-anchor="middle" font-weight="bold">200</text>
<line x1="1575.8" y1="1756.6" x2="1579.8" y2="1756.6" stroke="#8a8a8a" stroke-width="1"/>
<text x="1570.8" y="1761.8" font-size="14.5" fill="#555" text-anchor="end" font-weight="bold">9.68</text>
<line x1="1575.8" y1="1836.8" x2="1579.8" y2="1836.8" stroke="#8a8a8a" stroke-width="1"/>
<text x="1570.8" y="1842.0" font-size="14.5" fill="#555" text-anchor="end" font-weight="bold">9.66</text>
<line x1="1575.8" y1="1916.6" x2="1579.8" y2="1916.6" stroke="#8a8a8a" stroke-width="1"/>
<text x="1570.8" y="1921.8" font-size="14.5" fill="#555" text-anchor="end" font-weight="bold">9.64</text>
<line x1="1575.8" y1="1996.9" x2="1579.8" y2="1996.9" stroke="#8a8a8a" stroke-width="1"/>
<text x="1570.8" y="2002.1" font-size="14.5" fill="#555" text-anchor="end" font-weight="bold">9.62</text>
<line x1="1575.8" y1="2077.6" x2="1579.8" y2="2077.6" stroke="#8a8a8a" stroke-width="1"/>
<text x="1570.8" y="2082.8" font-size="14.5" fill="#555" text-anchor="end" font-weight="bold">9.6</text>
<line x1="1575.8" y1="2158.8" x2="1579.8" y2="2158.8" stroke="#8a8a8a" stroke-width="1"/>
<text x="1570.8" y="2164.0" font-size="14.5" fill="#555" text-anchor="end" font-weight="bold">9.58</text>
<text transform="translate(1533.2,2155.4) rotate(-90)" x="0" y="0" font-size="14.5" font-weight="bold" fill="#555" textLength="377.0" lengthAdjust="spacingAndGlyphs">MVA_UVA.215.Tryptophan.LOG_Peakarea_outliers-excluded</text>
<text x="1911.9" y="2217.2" font-size="13" fill="#505050" text-anchor="middle" font-weight="bold" textLength="145.0" lengthAdjust="spacingAndGlyphs">Inoculation-Duration_h</text>
<line x1="1575.7" y1="1907.2" x2="2254.2" y2="2164.5" stroke="#858585" stroke-width="2.6"/>
<text transform="translate(2155.0,2115.0) rotate(20.8)" x="0" y="4" font-size="12" fill="#9a9a9a" text-anchor="middle">r = -0.74</text>
<circle cx="1591.3" cy="2014.8" r="5" fill="#82c8f0" stroke="#4db0ea" stroke-width="2.2"/>
<circle cx="1591.3" cy="2064.4" r="5" fill="#82c8f0" stroke="#4db0ea" stroke-width="2.2"/>
<circle cx="1617.5" cy="1868.5" r="5" fill="#e98c80" stroke="#e05a4a" stroke-width="2.2"/>
<circle cx="1617.5" cy="1945.0" r="5" fill="#e98c80" stroke="#e05a4a" stroke-width="2.2"/>
<circle cx="1630.6" cy="1760.8" r="5" fill="#b6e576" stroke="#96da3c" stroke-width="2.2"/>
<circle cx="1630.6" cy="1827.9" r="5" fill="#b6e576" stroke="#96da3c" stroke-width="2.2"/>
<circle cx="1670.0" cy="1920.0" r="5" fill="#efbc84" stroke="#e8a050" stroke-width="2.2"/>
<circle cx="1670.0" cy="1950.2" r="5" fill="#efbc84" stroke="#e8a050" stroke-width="2.2"/>
<circle cx="1748.7" cy="1980.4" r="5" fill="#eceb6a" stroke="#e4e22a" stroke-width="2.2"/>
<circle cx="1748.7" cy="1980.4" r="5" fill="#eceb6a" stroke="#e4e22a" stroke-width="2.2"/>
<circle cx="1906.0" cy="2048.4" r="5" fill="#e984e9" stroke="#e050e0" stroke-width="2.2"/>
<circle cx="1906.0" cy="2075.3" r="5" fill="#e984e9" stroke="#e050e0" stroke-width="2.2"/>
<circle cx="2233.9" cy="2135.7" r="5" fill="#74ebf2" stroke="#38e2ec" stroke-width="2.2"/>
<circle cx="2233.9" cy="2170.2" r="5" fill="#74ebf2" stroke="#38e2ec" stroke-width="2.2"/>
<rect x="2197.5" y="1760.8" width="43.5" height="184.20000000000005" rx="2" fill="#f3f3f3" stroke="#e2e2e2" stroke-width="1"/>
<circle cx="2211.5" cy="1778.3" r="5" fill="#82c8f0" stroke="#4db0ea" stroke-width="2.2"/>
<text x="2222.0" y="1782.8" font-size="12.5" fill="#4a4a4a" font-weight="bold">0</text>
<circle cx="2211.5" cy="1803.2" r="5" fill="#e98c80" stroke="#e05a4a" stroke-width="2.2"/>
<text x="2222.0" y="1807.7" font-size="12.5" fill="#4a4a4a" font-weight="bold">1</text>
<circle cx="2211.5" cy="1828.0" r="5" fill="#b6e576" stroke="#96da3c" stroke-width="2.2"/>
<text x="2222.0" y="1832.5" font-size="12.5" fill="#4a4a4a" font-weight="bold">2</text>
<circle cx="2211.5" cy="1852.9" r="5" fill="#efbc84" stroke="#e8a050" stroke-width="2.2"/>
<text x="2222.0" y="1857.4" font-size="12.5" fill="#4a4a4a" font-weight="bold">3</text>
<circle cx="2211.5" cy="1877.8" r="5" fill="#eceb6a" stroke="#e4e22a" stroke-width="2.2"/>
<text x="2222.0" y="1882.3" font-size="12.5" fill="#4a4a4a" font-weight="bold">4</text>
<circle cx="2211.5" cy="1902.6" r="5" fill="#e984e9" stroke="#e050e0" stroke-width="2.2"/>
<text x="2222.0" y="1907.1" font-size="12.5" fill="#4a4a4a" font-weight="bold">5</text>
<circle cx="2211.5" cy="1927.5" r="5" fill="#74ebf2" stroke="#38e2ec" stroke-width="2.2"/>
<text x="2222.0" y="1932.0" font-size="12.5" fill="#4a4a4a" font-weight="bold">6</text>
</g>
<text x="1535.5" y="1724.0" font-size="45" fill="#1a1a1a">(k)</text>
<text x="1891.6" y="1729.0" font-size="28" fill="#222" text-anchor="middle" textLength="143.6" lengthAdjust="spacingAndGlyphs">Tryptophan</text>
<clipPath id="clip_l"><rect x="28" y="2275" width="739" height="487"/></clipPath>
<g clip-path="url(#clip_l)">
<path d="M90.7,2281.4 L90.7,2706.3 L767,2706.3" fill="none" stroke="#9a9a9a" stroke-width="2.2"/>
<line x1="106.2" y1="2702.3" x2="106.2" y2="2706.3" stroke="#8a8a8a" stroke-width="1"/>
<text x="106.2" y="2718.9" font-size="12" fill="#6a6a6a" text-anchor="middle" font-weight="bold">0</text>
<line x1="171.4" y1="2702.3" x2="171.4" y2="2706.3" stroke="#8a8a8a" stroke-width="1"/>
<text x="171.4" y="2718.9" font-size="12" fill="#6a6a6a" text-anchor="middle" font-weight="bold">20</text>
<line x1="236.6" y1="2702.3" x2="236.6" y2="2706.3" stroke="#8a8a8a" stroke-width="1"/>
<text x="236.6" y="2718.9" font-size="12" fill="#6a6a6a" text-anchor="middle" font-weight="bold">40</text>
<line x1="301.8" y1="2702.3" x2="301.8" y2="2706.3" stroke="#8a8a8a" stroke-width="1"/>
<text x="301.8" y="2718.9" font-size="12" fill="#6a6a6a" text-anchor="middle" font-weight="bold">60</text>
<line x1="367.0" y1="2702.3" x2="367.0" y2="2706.3" stroke="#8a8a8a" stroke-width="1"/>
<text x="367.0" y="2718.9" font-size="12" fill="#6a6a6a" text-anchor="middle" font-weight="bold">80</text>
<line x1="432.2" y1="2702.3" x2="432.2" y2="2706.3" stroke="#8a8a8a" stroke-width="1"/>
<text x="432.2" y="2718.9" font-size="12" fill="#6a6a6a" text-anchor="middle" font-weight="bold">100</text>
<line x1="497.5" y1="2702.3" x2="497.5" y2="2706.3" stroke="#8a8a8a" stroke-width="1"/>
<text x="497.5" y="2718.9" font-size="12" fill="#6a6a6a" text-anchor="middle" font-weight="bold">120</text>
<line x1="562.7" y1="2702.3" x2="562.7" y2="2706.3" stroke="#8a8a8a" stroke-width="1"/>
<text x="562.7" y="2718.9" font-size="12" fill="#6a6a6a" text-anchor="middle" font-weight="bold">140</text>
<line x1="627.9" y1="2702.3" x2="627.9" y2="2706.3" stroke="#8a8a8a" stroke-width="1"/>
<text x="627.9" y="2718.9" font-size="12" fill="#6a6a6a" text-anchor="middle" font-weight="bold">160</text>
<line x1="693.1" y1="2702.3" x2="693.1" y2="2706.3" stroke="#8a8a8a" stroke-width="1"/>
<text x="693.1" y="2718.9" font-size="12" fill="#6a6a6a" text-anchor="middle" font-weight="bold">180</text>
<line x1="758.3" y1="2702.3" x2="758.3" y2="2706.3" stroke="#8a8a8a" stroke-width="1"/>
<text x="758.3" y="2718.9" font-size="12" fill="#6a6a6a" text-anchor="middle" font-weight="bold">200</text>
<line x1="90.7" y1="2348.9" x2="94.7" y2="2348.9" stroke="#8a8a8a" stroke-width="1"/>
<text x="85.7" y="2354.1" font-size="14.5" fill="#555" text-anchor="end" font-weight="bold">7.8</text>
<line x1="90.7" y1="2435.3" x2="94.7" y2="2435.3" stroke="#8a8a8a" stroke-width="1"/>
<text x="85.7" y="2440.5" font-size="14.5" fill="#555" text-anchor="end" font-weight="bold">7.7</text>
<line x1="90.7" y1="2521.2" x2="94.7" y2="2521.2" stroke="#8a8a8a" stroke-width="1"/>
<text x="85.7" y="2526.4" font-size="14.5" fill="#555" text-anchor="end" font-weight="bold">7.6</text>
<line x1="90.7" y1="2607.6" x2="94.7" y2="2607.6" stroke="#8a8a8a" stroke-width="1"/>
<text x="85.7" y="2612.8" font-size="14.5" fill="#555" text-anchor="end" font-weight="bold">7.5</text>
<line x1="90.7" y1="2694.0" x2="94.7" y2="2694.0" stroke="#8a8a8a" stroke-width="1"/>
<text x="85.7" y="2699.2" font-size="14.5" fill="#555" text-anchor="end" font-weight="bold">7.4</text>
<clipPath id="yl_l"><rect x="22.5" y="2283.5" width="40" height="409.6999999999998"/></clipPath>
<g clip-path="url(#yl_l)">
<text transform="translate(47.7,2683.2) rotate(-90)" x="0" y="0" font-size="14.5" font-weight="bold" fill="#555" textLength="453.7" lengthAdjust="spacingAndGlyphs">MVA_UVA.9,3-Methyl-2-oxovaleric acid.LOG_Peakarea_outliers-excluded</text>
</g>
<text x="425.0" y="2743.9" font-size="13" fill="#505050" text-anchor="middle" font-weight="bold" textLength="145.0" lengthAdjust="spacingAndGlyphs">Inoculation-Duration_h</text>
<line x1="90.7" y1="2416" x2="670.4" y2="2706.3" stroke="#858585" stroke-width="2.6"/>
<text transform="translate(590.2,2653.4) rotate(26.6)" x="0" y="4" font-size="12" fill="#9a9a9a" text-anchor="middle">r = -0.74</text>
<circle cx="106.2" cy="2291.8" r="5" fill="#82c8f0" stroke="#4db0ea" stroke-width="2.2"/>
<circle cx="106.2" cy="2291.8" r="5" fill="#82c8f0" stroke="#4db0ea" stroke-width="2.2"/>
<circle cx="132.3" cy="2401.3" r="5" fill="#e98c80" stroke="#e05a4a" stroke-width="2.2"/>
<circle cx="132.3" cy="2419.2" r="5" fill="#e98c80" stroke="#e05a4a" stroke-width="2.2"/>
<circle cx="145.3" cy="2346.0" r="5" fill="#b6e576" stroke="#96da3c" stroke-width="2.2"/>
<circle cx="145.3" cy="2404.1" r="5" fill="#b6e576" stroke="#96da3c" stroke-width="2.2"/>
<circle cx="184.5" cy="2569.9" r="5" fill="#efbc84" stroke="#e8a050" stroke-width="2.2"/>
<circle cx="184.5" cy="2593.5" r="5" fill="#efbc84" stroke="#e8a050" stroke-width="2.2"/>
<circle cx="262.7" cy="2622.7" r="5" fill="#eceb6a" stroke="#e4e22a" stroke-width="2.2"/>
<circle cx="262.7" cy="2670.0" r="5" fill="#eceb6a" stroke="#e4e22a" stroke-width="2.2"/>
<circle cx="419.2" cy="2573.2" r="5" fill="#e984e9" stroke="#e050e0" stroke-width="2.2"/>
<circle cx="419.2" cy="2629.8" r="5" fill="#e984e9" stroke="#e050e0" stroke-width="2.2"/>
<circle cx="745.3" cy="2683.2" r="5" fill="#74ebf2" stroke="#38e2ec" stroke-width="2.2"/>
<circle cx="745.3" cy="2696.9" r="5" fill="#74ebf2" stroke="#38e2ec" stroke-width="2.2"/>
<rect x="708.2" y="2289.9" width="43.5" height="182.69999999999982" rx="2" fill="#f3f3f3" stroke="#e2e2e2" stroke-width="1"/>
<circle cx="722.2" cy="2307.4" r="5" fill="#82c8f0" stroke="#4db0ea" stroke-width="2.2"/>
<text x="732.7" y="2311.9" font-size="12.5" fill="#4a4a4a" font-weight="bold">0</text>
<circle cx="722.2" cy="2332.0" r="5" fill="#e98c80" stroke="#e05a4a" stroke-width="2.2"/>
<text x="732.7" y="2336.5" font-size="12.5" fill="#4a4a4a" font-weight="bold">1</text>
<circle cx="722.2" cy="2356.6" r="5" fill="#b6e576" stroke="#96da3c" stroke-width="2.2"/>
<text x="732.7" y="2361.1" font-size="12.5" fill="#4a4a4a" font-weight="bold">2</text>
<circle cx="722.2" cy="2381.2" r="5" fill="#efbc84" stroke="#e8a050" stroke-width="2.2"/>
<text x="732.7" y="2385.8" font-size="12.5" fill="#4a4a4a" font-weight="bold">3</text>
<circle cx="722.2" cy="2405.9" r="5" fill="#eceb6a" stroke="#e4e22a" stroke-width="2.2"/>
<text x="732.7" y="2410.4" font-size="12.5" fill="#4a4a4a" font-weight="bold">4</text>
<circle cx="722.2" cy="2430.5" r="5" fill="#e984e9" stroke="#e050e0" stroke-width="2.2"/>
<text x="732.7" y="2435.0" font-size="12.5" fill="#4a4a4a" font-weight="bold">5</text>
<circle cx="722.2" cy="2455.1" r="5" fill="#74ebf2" stroke="#38e2ec" stroke-width="2.2"/>
<text x="732.7" y="2459.6" font-size="12.5" fill="#4a4a4a" font-weight="bold">6</text>
</g>
<text x="38.0" y="2250.5" font-size="45" fill="#1a1a1a">(l)</text>
<text x="400.7" y="2258.6" font-size="28" fill="#222" text-anchor="middle" textLength="356.2" lengthAdjust="spacingAndGlyphs">9,3-Methyl-2-oxovaleric Acid</text>
<rect x="1232.4" y="2247.5" width="989.5" height="61.5" fill="#bfbfbf"/>
<line x1="1232.4" y1="2280.5" x2="2221.9" y2="2280.5" stroke="#cfcfcf" stroke-width="1.2"/>
<rect x="1232.4" y="2309" width="186.19999999999982" height="764.0" fill="#bfbfbf"/>
<rect x="1923.1" y="2308.6" width="96.9" height="31.36" fill="#c6e0b4"/>
<rect x="1520.5" y="2339.2" width="96.6" height="31.36" fill="#c6e0b4"/>
<rect x="1923.1" y="2339.2" width="96.9" height="31.36" fill="#c6e0b4"/>
<rect x="1923.1" y="2369.7" width="96.9" height="31.36" fill="#c6e0b4"/>
<rect x="1620.1" y="2400.3" width="99.3" height="31.36" fill="#c6e0b4"/>
<rect x="1923.1" y="2430.8" width="96.9" height="31.36" fill="#c6e0b4"/>
<rect x="1420.1" y="2461.4" width="97.4" height="31.36" fill="#c6e0b4"/>
<rect x="1520.5" y="2461.4" width="96.6" height="31.36" fill="#c6e0b4"/>
<rect x="1923.1" y="2492.0" width="96.9" height="31.36" fill="#c6e0b4"/>
<rect x="2023.0" y="2522.5" width="96.6" height="31.36" fill="#c6e0b4"/>
<rect x="1520.5" y="2553.1" width="96.6" height="31.36" fill="#c6e0b4"/>
<rect x="1923.1" y="2553.1" width="96.9" height="31.36" fill="#c6e0b4"/>
<rect x="1923.1" y="2583.6" width="96.9" height="31.36" fill="#c6e0b4"/>
<rect x="1923.1" y="2614.2" width="96.9" height="31.36" fill="#c6e0b4"/>
<rect x="1923.1" y="2644.8" width="96.9" height="31.36" fill="#c6e0b4"/>
<rect x="1923.1" y="2675.3" width="96.9" height="31.36" fill="#c6e0b4"/>
<rect x="1923.1" y="2705.9" width="96.9" height="31.36" fill="#c6e0b4"/>
<rect x="1520.5" y="2736.4" width="96.6" height="31.36" fill="#c6e0b4"/>
<rect x="1923.1" y="2736.4" width="96.9" height="31.36" fill="#c6e0b4"/>
<rect x="1420.1" y="2767.0" width="97.4" height="31.36" fill="#c6e0b4"/>
<rect x="1520.5" y="2767.0" width="96.6" height="31.36" fill="#c6e0b4"/>
<rect x="1923.1" y="2797.6" width="96.9" height="31.36" fill="#c6e0b4"/>
<rect x="1923.1" y="2828.1" width="96.9" height="31.36" fill="#c6e0b4"/>
<rect x="1620.1" y="2858.7" width="99.3" height="31.36" fill="#c6e0b4"/>
<rect x="1923.1" y="2889.2" width="96.9" height="31.36" fill="#c6e0b4"/>
<rect x="1722.4" y="2919.8" width="97.7" height="31.36" fill="#c6e0b4"/>
<rect x="1823.1" y="2919.8" width="97.0" height="31.36" fill="#c6e0b4"/>
<rect x="1923.1" y="2950.4" width="96.9" height="31.36" fill="#c6e0b4"/>
<rect x="1923.1" y="2980.9" width="96.9" height="31.36" fill="#c6e0b4"/>
<rect x="1923.1" y="3011.5" width="96.9" height="31.36" fill="#c6e0b4"/>
<rect x="1722.4" y="3042.0" width="97.7" height="31.36" fill="#c6e0b4"/>
<rect x="1823.1" y="3042.0" width="97.0" height="31.36" fill="#c6e0b4"/>
<text x="1238.4" y="2330.6" font-size="17.4" fill="#111" font-weight="bold">Adenine</text>
<text x="1512.0" y="2331.1" font-size="18.3" fill="#2a2a2a" text-anchor="end" stroke="#2a2a2a" stroke-width="0.3">-0.600</text>
<text x="1611.6" y="2331.1" font-size="18.3" fill="#2a2a2a" text-anchor="end" stroke="#2a2a2a" stroke-width="0.3">0.771</text>
<text x="1713.9" y="2331.1" font-size="18.3" fill="#2a2a2a" text-anchor="end" stroke="#2a2a2a" stroke-width="0.3">-0.371</text>
<text x="1814.6" y="2331.1" font-size="18.3" fill="#2a2a2a" text-anchor="end" stroke="#2a2a2a" stroke-width="0.3">-0.600</text>
<text x="1914.6" y="2331.1" font-size="18.3" fill="#2a2a2a" text-anchor="end" stroke="#2a2a2a" stroke-width="0.3">-0.600</text>
<text x="2014.5" y="2331.1" font-size="18.3" fill="#2a2a2a" text-anchor="end" stroke="#2a2a2a" stroke-width="0.3">&lt;-0,999</text>
<text x="2114.1" y="2331.1" font-size="18.3" fill="#2a2a2a" text-anchor="end" stroke="#2a2a2a" stroke-width="0.3">0.314</text>
<text x="2214.9" y="2331.1" font-size="18.3" fill="#2a2a2a" text-anchor="end" stroke="#2a2a2a" stroke-width="0.3">-0.621</text>
<text x="1238.4" y="2361.1" font-size="17.4" fill="#111" font-weight="bold">Adenosine</text>
<text x="1512.0" y="2361.6" font-size="18.3" fill="#2a2a2a" text-anchor="end" stroke="#2a2a2a" stroke-width="0.3">-0.700</text>
<text x="1611.6" y="2361.6" font-size="18.3" fill="#2a2a2a" text-anchor="end" stroke="#2a2a2a" stroke-width="0.3">0.900<tspan font-size="13" dy="-4.5">*</tspan></text>
<text x="1713.9" y="2361.6" font-size="18.3" fill="#2a2a2a" text-anchor="end" stroke="#2a2a2a" stroke-width="0.3">-0.300</text>
<text x="1814.6" y="2361.6" font-size="18.3" fill="#2a2a2a" text-anchor="end" stroke="#2a2a2a" stroke-width="0.3">-0.600</text>
<text x="1914.6" y="2361.6" font-size="18.3" fill="#2a2a2a" text-anchor="end" stroke="#2a2a2a" stroke-width="0.3">-0.600</text>
<text x="2014.5" y="2361.6" font-size="18.3" fill="#2a2a2a" text-anchor="end" stroke="#2a2a2a" stroke-width="0.3">-0.943<tspan font-size="13" dy="-4.5">**</tspan></text>
<text x="2114.1" y="2361.6" font-size="18.3" fill="#2a2a2a" text-anchor="end" stroke="#2a2a2a" stroke-width="0.3">0.000</text>
<text x="2214.9" y="2361.6" font-size="18.3" fill="#2a2a2a" text-anchor="end" stroke="#2a2a2a" stroke-width="0.3">-0.866</text>
<text x="1238.4" y="2391.7" font-size="17.4" fill="#111" font-weight="bold">ADP</text>
<text x="1512.0" y="2392.2" font-size="18.3" fill="#2a2a2a" text-anchor="end" stroke="#2a2a2a" stroke-width="0.3">0.600</text>
<text x="1611.6" y="2392.2" font-size="18.3" fill="#2a2a2a" text-anchor="end" stroke="#2a2a2a" stroke-width="0.3">-0.771</text>
<text x="1713.9" y="2392.2" font-size="18.3" fill="#2a2a2a" text-anchor="end" stroke="#2a2a2a" stroke-width="0.3">0.371</text>
<text x="1814.6" y="2392.2" font-size="18.3" fill="#2a2a2a" text-anchor="end" stroke="#2a2a2a" stroke-width="0.3">0.600</text>
<text x="1914.6" y="2392.2" font-size="18.3" fill="#2a2a2a" text-anchor="end" stroke="#2a2a2a" stroke-width="0.3">0.600</text>
<text x="2014.5" y="2392.2" font-size="18.3" fill="#2a2a2a" text-anchor="end" stroke="#2a2a2a" stroke-width="0.3">&gt;0,999<tspan font-size="13" dy="-4.5">**</tspan></text>
<text x="2114.1" y="2392.2" font-size="18.3" fill="#2a2a2a" text-anchor="end" stroke="#2a2a2a" stroke-width="0.3">-0.314</text>
<text x="2214.9" y="2392.2" font-size="18.3" fill="#2a2a2a" text-anchor="end" stroke="#2a2a2a" stroke-width="0.3">0.621</text>
<text x="1238.4" y="2422.3" font-size="17.4" fill="#111" font-weight="bold">CDP Choline</text>
<text x="1512.0" y="2422.8" font-size="18.3" fill="#2a2a2a" text-anchor="end" stroke="#2a2a2a" stroke-width="0.3">-0.257</text>
<text x="1611.6" y="2422.8" font-size="18.3" fill="#2a2a2a" text-anchor="end" stroke="#2a2a2a" stroke-width="0.3">-0.029</text>
<text x="1713.9" y="2422.8" font-size="18.3" fill="#2a2a2a" text-anchor="end" stroke="#2a2a2a" stroke-width="0.3">&gt;0,999<tspan font-size="13" dy="-4.5">**</tspan></text>
<text x="1814.6" y="2422.8" font-size="18.3" fill="#2a2a2a" text-anchor="end" stroke="#2a2a2a" stroke-width="0.3">-0.314</text>
<text x="1914.6" y="2422.8" font-size="18.3" fill="#2a2a2a" text-anchor="end" stroke="#2a2a2a" stroke-width="0.3">-0.314</text>
<text x="2014.5" y="2422.8" font-size="18.3" fill="#2a2a2a" text-anchor="end" stroke="#2a2a2a" stroke-width="0.3">0.371</text>
<text x="2114.1" y="2422.8" font-size="18.3" fill="#2a2a2a" text-anchor="end" stroke="#2a2a2a" stroke-width="0.3">-0.714</text>
<text x="2214.9" y="2422.8" font-size="18.3" fill="#2a2a2a" text-anchor="end" stroke="#2a2a2a" stroke-width="0.3">0.414</text>
<text x="1238.4" y="2452.8" font-size="17.4" fill="#111" font-weight="bold">Cytidine</text>
<text x="1512.0" y="2453.3" font-size="18.3" fill="#2a2a2a" text-anchor="end" stroke="#2a2a2a" stroke-width="0.3">-0.600</text>
<text x="1611.6" y="2453.3" font-size="18.3" fill="#2a2a2a" text-anchor="end" stroke="#2a2a2a" stroke-width="0.3">0.771</text>
<text x="1713.9" y="2453.3" font-size="18.3" fill="#2a2a2a" text-anchor="end" stroke="#2a2a2a" stroke-width="0.3">-0.371</text>
<text x="1814.6" y="2453.3" font-size="18.3" fill="#2a2a2a" text-anchor="end" stroke="#2a2a2a" stroke-width="0.3">-0.600</text>
<text x="1914.6" y="2453.3" font-size="18.3" fill="#2a2a2a" text-anchor="end" stroke="#2a2a2a" stroke-width="0.3">-0.600</text>
<text x="2014.5" y="2453.3" font-size="18.3" fill="#2a2a2a" text-anchor="end" stroke="#2a2a2a" stroke-width="0.3">&lt;-0,999<tspan font-size="13" dy="-4.5">**</tspan></text>
<text x="2114.1" y="2453.3" font-size="18.3" fill="#2a2a2a" text-anchor="end" stroke="#2a2a2a" stroke-width="0.3">0.314</text>
<text x="2214.9" y="2453.3" font-size="18.3" fill="#2a2a2a" text-anchor="end" stroke="#2a2a2a" stroke-width="0.3">-0.621</text>
<text x="1238.4" y="2483.4" font-size="17.4" fill="#111" font-weight="bold">dAMP</text>
<text x="1512.0" y="2483.9" font-size="18.3" fill="#2a2a2a" text-anchor="end" stroke="#2a2a2a" stroke-width="0.3">0.943<tspan font-size="13" dy="-4.5">**</tspan></text>
<text x="1611.6" y="2483.9" font-size="18.3" fill="#2a2a2a" text-anchor="end" stroke="#2a2a2a" stroke-width="0.3">-0.886<tspan font-size="13" dy="-4.5">*</tspan></text>
<text x="1713.9" y="2483.9" font-size="18.3" fill="#2a2a2a" text-anchor="end" stroke="#2a2a2a" stroke-width="0.3">-0.200</text>
<text x="1814.6" y="2483.9" font-size="18.3" fill="#2a2a2a" text-anchor="end" stroke="#2a2a2a" stroke-width="0.3">0.714</text>
<text x="1914.6" y="2483.9" font-size="18.3" fill="#2a2a2a" text-anchor="end" stroke="#2a2a2a" stroke-width="0.3">0.714</text>
<text x="2014.5" y="2483.9" font-size="18.3" fill="#2a2a2a" text-anchor="end" stroke="#2a2a2a" stroke-width="0.3">0.657</text>
<text x="2114.1" y="2483.9" font-size="18.3" fill="#2a2a2a" text-anchor="end" stroke="#2a2a2a" stroke-width="0.3">0.086</text>
<text x="2214.9" y="2483.9" font-size="18.3" fill="#2a2a2a" text-anchor="end" stroke="#2a2a2a" stroke-width="0.3">0.207</text>
<text x="1238.4" y="2513.9" font-size="17.4" fill="#111" font-weight="bold">Guanosine</text>
<text x="1512.0" y="2514.4" font-size="18.3" fill="#2a2a2a" text-anchor="end" stroke="#2a2a2a" stroke-width="0.3">-0.800</text>
<text x="1611.6" y="2514.4" font-size="18.3" fill="#2a2a2a" text-anchor="end" stroke="#2a2a2a" stroke-width="0.3">0.800</text>
<text x="1713.9" y="2514.4" font-size="18.3" fill="#2a2a2a" text-anchor="end" stroke="#2a2a2a" stroke-width="0.3">0.400</text>
<text x="1814.6" y="2514.4" font-size="18.3" fill="#2a2a2a" text-anchor="end" stroke="#2a2a2a" stroke-width="0.3">-0.800</text>
<text x="1914.6" y="2514.4" font-size="18.3" fill="#2a2a2a" text-anchor="end" stroke="#2a2a2a" stroke-width="0.3">-0.800</text>
<text x="2014.5" y="2514.4" font-size="18.3" fill="#2a2a2a" text-anchor="end" stroke="#2a2a2a" stroke-width="0.3">&lt;-0,999<tspan font-size="13" dy="-4.5">**</tspan></text>
<text x="2114.1" y="2514.4" font-size="18.3" fill="#2a2a2a" text-anchor="end" stroke="#2a2a2a" stroke-width="0.3">-0.200</text>
<text x="2214.9" y="2514.4" font-size="18.3" fill="#2a2a2a" text-anchor="end" stroke="#2a2a2a" stroke-width="0.3">-0.775</text>
<text x="1238.4" y="2544.5" font-size="17.4" fill="#111" font-weight="bold">GDP</text>
<text x="1512.0" y="2545.0" font-size="18.3" fill="#2a2a2a" text-anchor="end" stroke="#2a2a2a" stroke-width="0.3">-0.800</text>
<text x="1611.6" y="2545.0" font-size="18.3" fill="#2a2a2a" text-anchor="end" stroke="#2a2a2a" stroke-width="0.3">0.400</text>
<text x="1713.9" y="2545.0" font-size="18.3" fill="#2a2a2a" text-anchor="end" stroke="#2a2a2a" stroke-width="0.3">0.800</text>
<text x="1814.6" y="2545.0" font-size="18.3" fill="#2a2a2a" text-anchor="end" stroke="#2a2a2a" stroke-width="0.3">0.200</text>
<text x="1914.6" y="2545.0" font-size="18.3" fill="#2a2a2a" text-anchor="end" stroke="#2a2a2a" stroke-width="0.3">0.200</text>
<text x="2014.5" y="2545.0" font-size="18.3" fill="#2a2a2a" text-anchor="end" stroke="#2a2a2a" stroke-width="0.3">0.800</text>
<text x="2114.1" y="2545.0" font-size="18.3" fill="#2a2a2a" text-anchor="end" stroke="#2a2a2a" stroke-width="0.3">&lt;-0,999<tspan font-size="13" dy="-4.5">**</tspan></text>
<text x="2214.9" y="2545.0" font-size="18.3" fill="#2a2a2a" text-anchor="end" stroke="#2a2a2a" stroke-width="0.3">0.000</text>
<text x="1238.4" y="2575.1" font-size="17.4" fill="#111" font-weight="bold">Thymine</text>
<text x="1512.0" y="2575.6" font-size="18.3" fill="#2a2a2a" text-anchor="end" stroke="#2a2a2a" stroke-width="0.3">0.657</text>
<text x="1611.6" y="2575.6" font-size="18.3" fill="#2a2a2a" text-anchor="end" stroke="#2a2a2a" stroke-width="0.3">-0.829<tspan font-size="13" dy="-4.5">*</tspan></text>
<text x="1713.9" y="2575.6" font-size="18.3" fill="#2a2a2a" text-anchor="end" stroke="#2a2a2a" stroke-width="0.3">0.314</text>
<text x="1814.6" y="2575.6" font-size="18.3" fill="#2a2a2a" text-anchor="end" stroke="#2a2a2a" stroke-width="0.3">0.486</text>
<text x="1914.6" y="2575.6" font-size="18.3" fill="#2a2a2a" text-anchor="end" stroke="#2a2a2a" stroke-width="0.3">0.486</text>
<text x="2014.5" y="2575.6" font-size="18.3" fill="#2a2a2a" text-anchor="end" stroke="#2a2a2a" stroke-width="0.3">0.943</text>
<text x="2114.1" y="2575.6" font-size="18.3" fill="#2a2a2a" text-anchor="end" stroke="#2a2a2a" stroke-width="0.3">-0.143</text>
<text x="2214.9" y="2575.6" font-size="18.3" fill="#2a2a2a" text-anchor="end" stroke="#2a2a2a" stroke-width="0.3">0.828</text>
<text x="1238.4" y="2605.6" font-size="17.4" fill="#111" font-weight="bold">Uracil</text>
<text x="1512.0" y="2606.1" font-size="18.3" fill="#2a2a2a" text-anchor="end" stroke="#2a2a2a" stroke-width="0.3">-0.486</text>
<text x="1611.6" y="2606.1" font-size="18.3" fill="#2a2a2a" text-anchor="end" stroke="#2a2a2a" stroke-width="0.3">0.600</text>
<text x="1713.9" y="2606.1" font-size="18.3" fill="#2a2a2a" text-anchor="end" stroke="#2a2a2a" stroke-width="0.3">-0.257</text>
<text x="1814.6" y="2606.1" font-size="18.3" fill="#2a2a2a" text-anchor="end" stroke="#2a2a2a" stroke-width="0.3">-0.771</text>
<text x="1914.6" y="2606.1" font-size="18.3" fill="#2a2a2a" text-anchor="end" stroke="#2a2a2a" stroke-width="0.3">-0.771</text>
<text x="2014.5" y="2606.1" font-size="18.3" fill="#2a2a2a" text-anchor="end" stroke="#2a2a2a" stroke-width="0.3">-0.943<tspan font-size="13" dy="-4.5">**</tspan></text>
<text x="2114.1" y="2606.1" font-size="18.3" fill="#2a2a2a" text-anchor="end" stroke="#2a2a2a" stroke-width="0.3">0.429</text>
<text x="2214.9" y="2606.1" font-size="18.3" fill="#2a2a2a" text-anchor="end" stroke="#2a2a2a" stroke-width="0.3">-0.414</text>
<text x="1238.4" y="2636.2" font-size="17.4" fill="#111" font-weight="bold">Uridine</text>
<text x="1512.0" y="2636.7" font-size="18.3" fill="#2a2a2a" text-anchor="end" stroke="#2a2a2a" stroke-width="0.3">-0.486</text>
<text x="1611.6" y="2636.7" font-size="18.3" fill="#2a2a2a" text-anchor="end" stroke="#2a2a2a" stroke-width="0.3">0.600</text>
<text x="1713.9" y="2636.7" font-size="18.3" fill="#2a2a2a" text-anchor="end" stroke="#2a2a2a" stroke-width="0.3">-0.257</text>
<text x="1814.6" y="2636.7" font-size="18.3" fill="#2a2a2a" text-anchor="end" stroke="#2a2a2a" stroke-width="0.3">-0.771</text>
<text x="1914.6" y="2636.7" font-size="18.3" fill="#2a2a2a" text-anchor="end" stroke="#2a2a2a" stroke-width="0.3">-0.771</text>
<text x="2014.5" y="2636.7" font-size="18.3" fill="#2a2a2a" text-anchor="end" stroke="#2a2a2a" stroke-width="0.3">-0.943<tspan font-size="13" dy="-4.5">**</tspan></text>
<text x="2114.1" y="2636.7" font-size="18.3" fill="#2a2a2a" text-anchor="end" stroke="#2a2a2a" stroke-width="0.3">0.429</text>
<text x="2214.9" y="2636.7" font-size="18.3" fill="#2a2a2a" text-anchor="end" stroke="#2a2a2a" stroke-width="0.3">-0.414</text>
<text x="1238.4" y="2666.7" font-size="17.4" fill="#111" font-weight="bold">Xanthine</text>
<text x="1512.0" y="2667.2" font-size="18.3" fill="#2a2a2a" text-anchor="end" stroke="#2a2a2a" stroke-width="0.3">-0.800</text>
<text x="1611.6" y="2667.2" font-size="18.3" fill="#2a2a2a" text-anchor="end" stroke="#2a2a2a" stroke-width="0.3">0.800</text>
<text x="1713.9" y="2667.2" font-size="18.3" fill="#2a2a2a" text-anchor="end" stroke="#2a2a2a" stroke-width="0.3">0.400</text>
<text x="1814.6" y="2667.2" font-size="18.3" fill="#2a2a2a" text-anchor="end" stroke="#2a2a2a" stroke-width="0.3">-0.800</text>
<text x="1914.6" y="2667.2" font-size="18.3" fill="#2a2a2a" text-anchor="end" stroke="#2a2a2a" stroke-width="0.3">-0.800</text>
<text x="2014.5" y="2667.2" font-size="18.3" fill="#2a2a2a" text-anchor="end" stroke="#2a2a2a" stroke-width="0.3">&lt;-0,999<tspan font-size="13" dy="-4.5">**</tspan></text>
<text x="2114.1" y="2667.2" font-size="18.3" fill="#2a2a2a" text-anchor="end" stroke="#2a2a2a" stroke-width="0.3">-0.200</text>
<text x="2214.9" y="2667.2" font-size="18.3" fill="#2a2a2a" text-anchor="end" stroke="#2a2a2a" stroke-width="0.3">-0.775</text>
<text x="1238.4" y="2697.3" font-size="17.4" fill="#111" font-weight="bold">Niacinamide</text>
<text x="1512.0" y="2697.8" font-size="18.3" fill="#2a2a2a" text-anchor="end" stroke="#2a2a2a" stroke-width="0.3">-0.600</text>
<text x="1611.6" y="2697.8" font-size="18.3" fill="#2a2a2a" text-anchor="end" stroke="#2a2a2a" stroke-width="0.3">0.771</text>
<text x="1713.9" y="2697.8" font-size="18.3" fill="#2a2a2a" text-anchor="end" stroke="#2a2a2a" stroke-width="0.3">-0.371</text>
<text x="1814.6" y="2697.8" font-size="18.3" fill="#2a2a2a" text-anchor="end" stroke="#2a2a2a" stroke-width="0.3">-0.600</text>
<text x="1914.6" y="2697.8" font-size="18.3" fill="#2a2a2a" text-anchor="end" stroke="#2a2a2a" stroke-width="0.3">-0.600</text>
<text x="2014.5" y="2697.8" font-size="18.3" fill="#2a2a2a" text-anchor="end" stroke="#2a2a2a" stroke-width="0.3">&lt;-0,999</text>
<text x="2114.1" y="2697.8" font-size="18.3" fill="#2a2a2a" text-anchor="end" stroke="#2a2a2a" stroke-width="0.3">0.314</text>
<text x="2214.9" y="2697.8" font-size="18.3" fill="#2a2a2a" text-anchor="end" stroke="#2a2a2a" stroke-width="0.3">-0.621</text>
<text x="1238.4" y="2727.9" font-size="17.4" fill="#111" font-weight="bold">Nicotinic Acid</text>
<text x="1512.0" y="2728.4" font-size="18.3" fill="#2a2a2a" text-anchor="end" stroke="#2a2a2a" stroke-width="0.3">-0.486</text>
<text x="1611.6" y="2728.4" font-size="18.3" fill="#2a2a2a" text-anchor="end" stroke="#2a2a2a" stroke-width="0.3">0.600</text>
<text x="1713.9" y="2728.4" font-size="18.3" fill="#2a2a2a" text-anchor="end" stroke="#2a2a2a" stroke-width="0.3">-0.257</text>
<text x="1814.6" y="2728.4" font-size="18.3" fill="#2a2a2a" text-anchor="end" stroke="#2a2a2a" stroke-width="0.3">-0.771</text>
<text x="1914.6" y="2728.4" font-size="18.3" fill="#2a2a2a" text-anchor="end" stroke="#2a2a2a" stroke-width="0.3">-0.771</text>
<text x="2014.5" y="2728.4" font-size="18.3" fill="#2a2a2a" text-anchor="end" stroke="#2a2a2a" stroke-width="0.3">-0.943<tspan font-size="13" dy="-4.5">**</tspan></text>
<text x="2114.1" y="2728.4" font-size="18.3" fill="#2a2a2a" text-anchor="end" stroke="#2a2a2a" stroke-width="0.3">0.429</text>
<text x="2214.9" y="2728.4" font-size="18.3" fill="#2a2a2a" text-anchor="end" stroke="#2a2a2a" stroke-width="0.3">-0.414</text>
<text x="1238.4" y="2758.4" font-size="17.4" fill="#111" font-weight="bold">Pantothenic Acid</text>
<text x="1512.0" y="2758.9" font-size="18.3" fill="#2a2a2a" text-anchor="end" stroke="#2a2a2a" stroke-width="0.3">0.714</text>
<text x="1611.6" y="2758.9" font-size="18.3" fill="#2a2a2a" text-anchor="end" stroke="#2a2a2a" stroke-width="0.3">-0.829<tspan font-size="13" dy="-4.5">*</tspan></text>
<text x="1713.9" y="2758.9" font-size="18.3" fill="#2a2a2a" text-anchor="end" stroke="#2a2a2a" stroke-width="0.3">0.257</text>
<text x="1814.6" y="2758.9" font-size="18.3" fill="#2a2a2a" text-anchor="end" stroke="#2a2a2a" stroke-width="0.3">0.657</text>
<text x="1914.6" y="2758.9" font-size="18.3" fill="#2a2a2a" text-anchor="end" stroke="#2a2a2a" stroke-width="0.3">0.657</text>
<text x="2014.5" y="2758.9" font-size="18.3" fill="#2a2a2a" text-anchor="end" stroke="#2a2a2a" stroke-width="0.3">0.943</text>
<text x="2114.1" y="2758.9" font-size="18.3" fill="#2a2a2a" text-anchor="end" stroke="#2a2a2a" stroke-width="0.3">-0.257</text>
<text x="2214.9" y="2758.9" font-size="18.3" fill="#2a2a2a" text-anchor="end" stroke="#2a2a2a" stroke-width="0.3">0.414</text>
<text x="1238.4" y="2789.0" font-size="17.4" fill="#111" font-weight="bold">Alanine</text>
<text x="1512.0" y="2789.5" font-size="18.3" fill="#2a2a2a" text-anchor="end" stroke="#2a2a2a" stroke-width="0.3">-0.886<tspan font-size="13" dy="-4.5">*</tspan></text>
<text x="1611.6" y="2789.5" font-size="18.3" fill="#2a2a2a" text-anchor="end" stroke="#2a2a2a" stroke-width="0.3">0.943<tspan font-size="13" dy="-4.5">**</tspan></text>
<text x="1713.9" y="2789.5" font-size="18.3" fill="#2a2a2a" text-anchor="end" stroke="#2a2a2a" stroke-width="0.3">0.086</text>
<text x="1814.6" y="2789.5" font-size="18.3" fill="#2a2a2a" text-anchor="end" stroke="#2a2a2a" stroke-width="0.3">-0.257</text>
<text x="1914.6" y="2789.5" font-size="18.3" fill="#2a2a2a" text-anchor="end" stroke="#2a2a2a" stroke-width="0.3">-0.257</text>
<text x="2014.5" y="2789.5" font-size="18.3" fill="#2a2a2a" text-anchor="end" stroke="#2a2a2a" stroke-width="0.3">-0.600</text>
<text x="2114.1" y="2789.5" font-size="18.3" fill="#2a2a2a" text-anchor="end" stroke="#2a2a2a" stroke-width="0.3">-0.429</text>
<text x="2214.9" y="2789.5" font-size="18.3" fill="#2a2a2a" text-anchor="end" stroke="#2a2a2a" stroke-width="0.3">-0.621</text>
<text x="1238.4" y="2819.5" font-size="17.4" fill="#111" font-weight="bold">Aspartic Acid</text>
<text x="1512.0" y="2820.0" font-size="18.3" fill="#2a2a2a" text-anchor="end" stroke="#2a2a2a" stroke-width="0.3">-0.486</text>
<text x="1611.6" y="2820.0" font-size="18.3" fill="#2a2a2a" text-anchor="end" stroke="#2a2a2a" stroke-width="0.3">0.600</text>
<text x="1713.9" y="2820.0" font-size="18.3" fill="#2a2a2a" text-anchor="end" stroke="#2a2a2a" stroke-width="0.3">-0.257</text>
<text x="1814.6" y="2820.0" font-size="18.3" fill="#2a2a2a" text-anchor="end" stroke="#2a2a2a" stroke-width="0.3">-0.771</text>
<text x="1914.6" y="2820.0" font-size="18.3" fill="#2a2a2a" text-anchor="end" stroke="#2a2a2a" stroke-width="0.3">-0.771</text>
<text x="2014.5" y="2820.0" font-size="18.3" fill="#2a2a2a" text-anchor="end" stroke="#2a2a2a" stroke-width="0.3">-0.943<tspan font-size="13" dy="-4.5">**</tspan></text>
<text x="2114.1" y="2820.0" font-size="18.3" fill="#2a2a2a" text-anchor="end" stroke="#2a2a2a" stroke-width="0.3">0.429</text>
<text x="2214.9" y="2820.0" font-size="18.3" fill="#2a2a2a" text-anchor="end" stroke="#2a2a2a" stroke-width="0.3">-0.414</text>
<text x="1238.4" y="2850.1" font-size="17.4" fill="#111" font-weight="bold">Indoxyl Sulphate</text>
<text x="1512.0" y="2850.6" font-size="18.3" fill="#2a2a2a" text-anchor="end" stroke="#2a2a2a" stroke-width="0.3">0.371</text>
<text x="1611.6" y="2850.6" font-size="18.3" fill="#2a2a2a" text-anchor="end" stroke="#2a2a2a" stroke-width="0.3">-0.600</text>
<text x="1713.9" y="2850.6" font-size="18.3" fill="#2a2a2a" text-anchor="end" stroke="#2a2a2a" stroke-width="0.3">0.429</text>
<text x="1814.6" y="2850.6" font-size="18.3" fill="#2a2a2a" text-anchor="end" stroke="#2a2a2a" stroke-width="0.3">0.429</text>
<text x="1914.6" y="2850.6" font-size="18.3" fill="#2a2a2a" text-anchor="end" stroke="#2a2a2a" stroke-width="0.3">0.429</text>
<text x="2014.5" y="2850.6" font-size="18.3" fill="#2a2a2a" text-anchor="end" stroke="#2a2a2a" stroke-width="0.3">0.942<tspan font-size="13" dy="-4.5">**</tspan></text>
<text x="2114.1" y="2850.6" font-size="18.3" fill="#2a2a2a" text-anchor="end" stroke="#2a2a2a" stroke-width="0.3">-0.257</text>
<text x="2214.9" y="2850.6" font-size="18.3" fill="#2a2a2a" text-anchor="end" stroke="#2a2a2a" stroke-width="0.3">0.621</text>
<text x="1238.4" y="2880.7" font-size="17.4" fill="#111" font-weight="bold">N-Acetylputrescine</text>
<text x="1512.0" y="2881.2" font-size="18.3" fill="#2a2a2a" text-anchor="end" stroke="#2a2a2a" stroke-width="0.3">-0.143</text>
<text x="1611.6" y="2881.2" font-size="18.3" fill="#2a2a2a" text-anchor="end" stroke="#2a2a2a" stroke-width="0.3">-0.143</text>
<text x="1713.9" y="2881.2" font-size="18.3" fill="#2a2a2a" text-anchor="end" stroke="#2a2a2a" stroke-width="0.3">0.943<tspan font-size="13" dy="-4.5">**</tspan></text>
<text x="1814.6" y="2881.2" font-size="18.3" fill="#2a2a2a" text-anchor="end" stroke="#2a2a2a" stroke-width="0.3">-0.029</text>
<text x="1914.6" y="2881.2" font-size="18.3" fill="#2a2a2a" text-anchor="end" stroke="#2a2a2a" stroke-width="0.3">-0.029</text>
<text x="2014.5" y="2881.2" font-size="18.3" fill="#2a2a2a" text-anchor="end" stroke="#2a2a2a" stroke-width="0.3">0.600</text>
<text x="2114.1" y="2881.2" font-size="18.3" fill="#2a2a2a" text-anchor="end" stroke="#2a2a2a" stroke-width="0.3">-0.771</text>
<text x="2214.9" y="2881.2" font-size="18.3" fill="#2a2a2a" text-anchor="end" stroke="#2a2a2a" stroke-width="0.3">0.414</text>
<text x="1238.4" y="2911.2" font-size="17.4" fill="#111" font-weight="bold">Phosphoserine</text>
<text x="1512.0" y="2911.7" font-size="18.3" fill="#2a2a2a" text-anchor="end" stroke="#2a2a2a" stroke-width="0.3">0.600</text>
<text x="1611.6" y="2911.7" font-size="18.3" fill="#2a2a2a" text-anchor="end" stroke="#2a2a2a" stroke-width="0.3">-0.771</text>
<text x="1713.9" y="2911.7" font-size="18.3" fill="#2a2a2a" text-anchor="end" stroke="#2a2a2a" stroke-width="0.3">0.371</text>
<text x="1814.6" y="2911.7" font-size="18.3" fill="#2a2a2a" text-anchor="end" stroke="#2a2a2a" stroke-width="0.3">0.600</text>
<text x="1914.6" y="2911.7" font-size="18.3" fill="#2a2a2a" text-anchor="end" stroke="#2a2a2a" stroke-width="0.3">0.600</text>
<text x="2014.5" y="2911.7" font-size="18.3" fill="#2a2a2a" text-anchor="end" stroke="#2a2a2a" stroke-width="0.3">&gt;0,999</text>
<text x="2114.1" y="2911.7" font-size="18.3" fill="#2a2a2a" text-anchor="end" stroke="#2a2a2a" stroke-width="0.3">-0.314</text>
<text x="2214.9" y="2911.7" font-size="18.3" fill="#2a2a2a" text-anchor="end" stroke="#2a2a2a" stroke-width="0.3">0.621</text>
<text x="1238.4" y="2941.8" font-size="17.4" fill="#111" font-weight="bold">Taurine</text>
<text x="1512.0" y="2942.3" font-size="18.3" fill="#2a2a2a" text-anchor="end" stroke="#2a2a2a" stroke-width="0.3">0.657</text>
<text x="1611.6" y="2942.3" font-size="18.3" fill="#2a2a2a" text-anchor="end" stroke="#2a2a2a" stroke-width="0.3">-0.600</text>
<text x="1713.9" y="2942.3" font-size="18.3" fill="#2a2a2a" text-anchor="end" stroke="#2a2a2a" stroke-width="0.3">-0.143</text>
<text x="1814.6" y="2942.3" font-size="18.3" fill="#2a2a2a" text-anchor="end" stroke="#2a2a2a" stroke-width="0.3">0.943<tspan font-size="13" dy="-4.5">**</tspan></text>
<text x="1914.6" y="2942.3" font-size="18.3" fill="#2a2a2a" text-anchor="end" stroke="#2a2a2a" stroke-width="0.3">0.943<tspan font-size="13" dy="-4.5">**</tspan></text>
<text x="2014.5" y="2942.3" font-size="18.3" fill="#2a2a2a" text-anchor="end" stroke="#2a2a2a" stroke-width="0.3">0.714</text>
<text x="2114.1" y="2942.3" font-size="18.3" fill="#2a2a2a" text-anchor="end" stroke="#2a2a2a" stroke-width="0.3">-0.257</text>
<text x="2214.9" y="2942.3" font-size="18.3" fill="#2a2a2a" text-anchor="end" stroke="#2a2a2a" stroke-width="0.3">0.000</text>
<text x="1238.4" y="2972.3" font-size="17.4" fill="#111" font-weight="bold">Citric Acid</text>
<text x="1512.0" y="2972.8" font-size="18.3" fill="#2a2a2a" text-anchor="end" stroke="#2a2a2a" stroke-width="0.3">0.371</text>
<text x="1611.6" y="2972.8" font-size="18.3" fill="#2a2a2a" text-anchor="end" stroke="#2a2a2a" stroke-width="0.3">-0.600</text>
<text x="1713.9" y="2972.8" font-size="18.3" fill="#2a2a2a" text-anchor="end" stroke="#2a2a2a" stroke-width="0.3">0.429</text>
<text x="1814.6" y="2972.8" font-size="18.3" fill="#2a2a2a" text-anchor="end" stroke="#2a2a2a" stroke-width="0.3">0.429</text>
<text x="1914.6" y="2972.8" font-size="18.3" fill="#2a2a2a" text-anchor="end" stroke="#2a2a2a" stroke-width="0.3">0.429</text>
<text x="2014.5" y="2972.8" font-size="18.3" fill="#2a2a2a" text-anchor="end" stroke="#2a2a2a" stroke-width="0.3">0.943<tspan font-size="13" dy="-4.5">**</tspan></text>
<text x="2114.1" y="2972.8" font-size="18.3" fill="#2a2a2a" text-anchor="end" stroke="#2a2a2a" stroke-width="0.3">-0.257</text>
<text x="2214.9" y="2972.8" font-size="18.3" fill="#2a2a2a" text-anchor="end" stroke="#2a2a2a" stroke-width="0.3">0.621</text>
<text x="1238.4" y="3002.9" font-size="17.4" fill="#111" font-weight="bold">Glyceric Acid</text>
<text x="1512.0" y="3003.4" font-size="18.3" fill="#2a2a2a" text-anchor="end" stroke="#2a2a2a" stroke-width="0.3">-0.600</text>
<text x="1611.6" y="3003.4" font-size="18.3" fill="#2a2a2a" text-anchor="end" stroke="#2a2a2a" stroke-width="0.3">0.771</text>
<text x="1713.9" y="3003.4" font-size="18.3" fill="#2a2a2a" text-anchor="end" stroke="#2a2a2a" stroke-width="0.3">-0.371</text>
<text x="1814.6" y="3003.4" font-size="18.3" fill="#2a2a2a" text-anchor="end" stroke="#2a2a2a" stroke-width="0.3">-0.600</text>
<text x="1914.6" y="3003.4" font-size="18.3" fill="#2a2a2a" text-anchor="end" stroke="#2a2a2a" stroke-width="0.3">-0.600</text>
<text x="2014.5" y="3003.4" font-size="18.3" fill="#2a2a2a" text-anchor="end" stroke="#2a2a2a" stroke-width="0.3">&lt;-0,999<tspan font-size="13" dy="-4.5">**</tspan></text>
<text x="2114.1" y="3003.4" font-size="18.3" fill="#2a2a2a" text-anchor="end" stroke="#2a2a2a" stroke-width="0.3">0.314</text>
<text x="2214.9" y="3003.4" font-size="18.3" fill="#2a2a2a" text-anchor="end" stroke="#2a2a2a" stroke-width="0.3">-0.621</text>
<text x="1238.4" y="3033.5" font-size="17.4" fill="#111" font-weight="bold">Malic Acid</text>
<text x="1512.0" y="3034.0" font-size="18.3" fill="#2a2a2a" text-anchor="end" stroke="#2a2a2a" stroke-width="0.3">-0.600</text>
<text x="1611.6" y="3034.0" font-size="18.3" fill="#2a2a2a" text-anchor="end" stroke="#2a2a2a" stroke-width="0.3">0.771</text>
<text x="1713.9" y="3034.0" font-size="18.3" fill="#2a2a2a" text-anchor="end" stroke="#2a2a2a" stroke-width="0.3">-0.371</text>
<text x="1814.6" y="3034.0" font-size="18.3" fill="#2a2a2a" text-anchor="end" stroke="#2a2a2a" stroke-width="0.3">-0.600</text>
<text x="1914.6" y="3034.0" font-size="18.3" fill="#2a2a2a" text-anchor="end" stroke="#2a2a2a" stroke-width="0.3">-0.600</text>
<text x="2014.5" y="3034.0" font-size="18.3" fill="#2a2a2a" text-anchor="end" stroke="#2a2a2a" stroke-width="0.3">&lt;-0,999<tspan font-size="13" dy="-4.5">**</tspan></text>
<text x="2114.1" y="3034.0" font-size="18.3" fill="#2a2a2a" text-anchor="end" stroke="#2a2a2a" stroke-width="0.3">0.314</text>
<text x="2214.9" y="3034.0" font-size="18.3" fill="#2a2a2a" text-anchor="end" stroke="#2a2a2a" stroke-width="0.3">-0.621</text>
<text x="1238.4" y="3064.0" font-size="17.4" fill="#111" font-weight="bold">Pyroglutamic Acid</text>
<text x="1512.0" y="3064.5" font-size="18.3" fill="#2a2a2a" text-anchor="end" stroke="#2a2a2a" stroke-width="0.3">-0.600</text>
<text x="1611.6" y="3064.5" font-size="18.3" fill="#2a2a2a" text-anchor="end" stroke="#2a2a2a" stroke-width="0.3">0.486</text>
<text x="1713.9" y="3064.5" font-size="18.3" fill="#2a2a2a" text-anchor="end" stroke="#2a2a2a" stroke-width="0.3">0.314</text>
<text x="1814.6" y="3064.5" font-size="18.3" fill="#2a2a2a" text-anchor="end" stroke="#2a2a2a" stroke-width="0.3">&lt;-0,999<tspan font-size="13" dy="-4.5">**</tspan></text>
<text x="1914.6" y="3064.5" font-size="18.3" fill="#2a2a2a" text-anchor="end" stroke="#2a2a2a" stroke-width="0.3">&lt;-0,999<tspan font-size="13" dy="-4.5">**</tspan></text>
<text x="2014.5" y="3064.5" font-size="18.3" fill="#2a2a2a" text-anchor="end" stroke="#2a2a2a" stroke-width="0.3">-0.600</text>
<text x="2114.1" y="3064.5" font-size="18.3" fill="#2a2a2a" text-anchor="end" stroke="#2a2a2a" stroke-width="0.3">0.200</text>
<text x="2214.9" y="3064.5" font-size="18.3" fill="#2a2a2a" text-anchor="end" stroke="#2a2a2a" stroke-width="0.3">0.000</text>
<text x="1154.0" y="2300.5" font-size="21" fill="#111" font-weight="bold" textLength="59.7" lengthAdjust="spacingAndGlyphs">CLASS</text>
<text x="1238.4" y="2299.5" font-size="17" fill="#111" font-weight="bold" textLength="106.8" lengthAdjust="spacingAndGlyphs">SUBSTANCE</text>
<text x="1468.8" y="2299.5" font-size="17" fill="#111" text-anchor="middle" font-weight="bold">W24</text>
<text x="1568.8" y="2299.5" font-size="17" fill="#111" text-anchor="middle" font-weight="bold">W62</text>
<text x="1669.8" y="2299.5" font-size="17" fill="#111" text-anchor="middle" font-weight="bold">W55+37</text>
<text x="1771.2" y="2299.5" font-size="17" fill="#111" text-anchor="middle" font-weight="bold">W54</text>
<text x="1871.6" y="2299.5" font-size="17" fill="#111" text-anchor="middle" font-weight="bold">W18+51</text>
<text x="1971.5" y="2299.5" font-size="17" fill="#111" text-anchor="middle" font-weight="bold">W72</text>
<text x="2071.3" y="2299.5" font-size="17" fill="#111" text-anchor="middle" font-weight="bold">W71</text>
<text x="2171.5" y="2299.5" font-size="17" fill="#111" text-anchor="middle" font-weight="bold">W23</text>
<line x1="1232.4" y1="2247.5" x2="1232.4" y2="3073.0" stroke="#333" stroke-width="2"/>
<line x1="1418.6" y1="2247.5" x2="1418.6" y2="3073.0" stroke="#333" stroke-width="2"/>
<line x1="1519" y1="2247.5" x2="1519" y2="3073.0" stroke="#333" stroke-width="2"/>
<line x1="1618.6" y1="2247.5" x2="1618.6" y2="3073.0" stroke="#333" stroke-width="2"/>
<line x1="1720.9" y1="2247.5" x2="1720.9" y2="3073.0" stroke="#333" stroke-width="2"/>
<line x1="1821.6" y1="2247.5" x2="1821.6" y2="3073.0" stroke="#333" stroke-width="2"/>
<line x1="1921.6" y1="2247.5" x2="1921.6" y2="3073.0" stroke="#333" stroke-width="2"/>
<line x1="2021.5" y1="2247.5" x2="2021.5" y2="3073.0" stroke="#333" stroke-width="2"/>
<line x1="2121.1" y1="2247.5" x2="2121.1" y2="3073.0" stroke="#333" stroke-width="2"/>
<line x1="1149.5" y1="2309" x2="2221.9" y2="2309" stroke="#333" stroke-width="2.4"/>
<line x1="1149.5" y1="2675.7" x2="2221.9" y2="2675.7" stroke="#333" stroke-width="2.4"/>
<line x1="1149.5" y1="2767.4" x2="2221.9" y2="2767.4" stroke="#333" stroke-width="2.4"/>
<line x1="1149.5" y1="2950.8" x2="2221.9" y2="2950.8" stroke="#333" stroke-width="2.4"/>
<rect x="1149.5" y="2247.5" width="1072.4" height="825.5" fill="none" stroke="#2a2a2a" stroke-width="2.6"/>
<text transform="translate(1197.0,2667.1) rotate(-90)" x="0" y="0" font-size="22" fill="#1a1a1a" textLength="307.5" lengthAdjust="spacingAndGlyphs">NUCLEOTIDES AND DERIVATES</text>
<text transform="translate(1182.7,2759.9) rotate(-90)" x="0" y="0" font-size="22" fill="#1a1a1a" textLength="53.6" lengthAdjust="spacingAndGlyphs">VITA-</text>
<text transform="translate(1212.4,2759.2) rotate(-90)" x="0" y="0" font-size="22" fill="#1a1a1a" textLength="52.2" lengthAdjust="spacingAndGlyphs">MINS</text>
<text transform="translate(1182.7,2943.1) rotate(-90)" x="0" y="0" font-size="22" fill="#1a1a1a" textLength="159.4" lengthAdjust="spacingAndGlyphs">AMINO ACIDS &amp;</text>
<text transform="translate(1212.4,2943.1) rotate(-90)" x="0" y="0" font-size="22" fill="#1a1a1a" textLength="141.0" lengthAdjust="spacingAndGlyphs">METABOLITES</text>
<text transform="translate(1182.6,3066.4) rotate(-90)" x="0" y="0" font-size="22" fill="#1a1a1a" textLength="96.6" lengthAdjust="spacingAndGlyphs">ORGANIC</text>
<text transform="translate(1212.7,3066.4) rotate(-90)" x="0" y="0" font-size="22" fill="#1a1a1a" textLength="57.4" lengthAdjust="spacingAndGlyphs">ACIDS</text>
<text x="893.5" y="2270.7" font-size="26" fill="#3a3a3a" textLength="105.0" lengthAdjust="spacingAndGlyphs" stroke="#3a3a3a" stroke-width="0.45">Pearson</text>
<text x="893.5" y="2305.4" font-size="26" fill="#3a3a3a" textLength="144.3" lengthAdjust="spacingAndGlyphs" stroke="#3a3a3a" stroke-width="0.45">correlations</text>
<text x="893.5" y="2340.2" font-size="26" fill="#3a3a3a" textLength="106.5" lengthAdjust="spacingAndGlyphs" stroke="#3a3a3a" stroke-width="0.45">between</text>
<text x="893.5" y="2374.9" font-size="26" fill="#3a3a3a" textLength="133.3" lengthAdjust="spacingAndGlyphs" stroke="#3a3a3a" stroke-width="0.45">MVA_UVA</text>
<text x="893.5" y="2409.6" font-size="26" fill="#3a3a3a" textLength="174.2" lengthAdjust="spacingAndGlyphs" stroke="#3a3a3a" stroke-width="0.45">metabolomics</text>
<text x="893.5" y="2444.3" font-size="26" fill="#3a3a3a" textLength="227.0" lengthAdjust="spacingAndGlyphs" stroke="#3a3a3a" stroke-width="0.45">analysis after data</text>
<text x="893.5" y="2479.1" font-size="26" fill="#3a3a3a" textLength="222.2" lengthAdjust="spacingAndGlyphs" stroke="#3a3a3a" stroke-width="0.45">normalization and</text>
<text x="893.5" y="2513.8" font-size="26" fill="#3a3a3a" textLength="148.3" lengthAdjust="spacingAndGlyphs" stroke="#3a3a3a" stroke-width="0.45">exclusion of</text>
<text x="893.5" y="2548.5" font-size="26" fill="#3a3a3a" textLength="144.3" lengthAdjust="spacingAndGlyphs" stroke="#3a3a3a" stroke-width="0.45">outliers and</text>
<text x="893.5" y="2583.3" font-size="26" fill="#3a3a3a" textLength="203.3" lengthAdjust="spacingAndGlyphs" stroke="#3a3a3a" stroke-width="0.45">relative bacterial</text>
<text x="893.5" y="2618.0" font-size="26" fill="#3a3a3a" textLength="216.7" lengthAdjust="spacingAndGlyphs" stroke="#3a3a3a" stroke-width="0.45">abundance in the</text>
<text x="893.5" y="2652.7" font-size="26" fill="#3a3a3a" textLength="216.7" lengthAdjust="spacingAndGlyphs" stroke="#3a3a3a" stroke-width="0.45">shotgun analysis.</text>
<text x="893.5" y="2687.5" font-size="26" fill="#3a3a3a" textLength="129.4" lengthAdjust="spacingAndGlyphs" stroke="#3a3a3a" stroke-width="0.45">Significant</text>
<text x="893.5" y="2722.2" font-size="26" fill="#3a3a3a" textLength="193.1" lengthAdjust="spacingAndGlyphs" stroke="#3a3a3a" stroke-width="0.45">correlations are</text>
<text x="893.5" y="2756.9" font-size="26" fill="#3a3a3a" textLength="164.8" lengthAdjust="spacingAndGlyphs" stroke="#3a3a3a" stroke-width="0.45">highlighted in</text>
<text x="893.5" y="2791.6" font-size="26" fill="#3a3a3a" textLength="230.8" lengthAdjust="spacingAndGlyphs" stroke="#3a3a3a" stroke-width="0.45">green. * p&lt;0.05; **</text>
<text x="893.5" y="2826.4" font-size="26" fill="#3a3a3a" textLength="93.6" lengthAdjust="spacingAndGlyphs" stroke="#3a3a3a" stroke-width="0.45">p&lt;0.01.</text>
<text x="1155.0" y="3100.5" font-size="22" fill="#262626" textLength="958.8" lengthAdjust="spacingAndGlyphs" stroke="#262626" stroke-width="0.35">W24…L. salivarius W62…L. plantarum, W55+37…L. acidophilus W55 and W37, W54…E. faecium,</text>
<text x="1155.0" y="3131.0" font-size="22" fill="#262626" textLength="912.2" lengthAdjust="spacingAndGlyphs" stroke="#262626" stroke-width="0.35">W18+51…B. longum and B. lactis, W72…L. paracasei, W71…L. rhamnosus, W23…B. bifidum</text>
<text x="780.2" y="2250.5" font-size="45" fill="#1a1a1a">(m)</text>
</svg>
</body></html>
